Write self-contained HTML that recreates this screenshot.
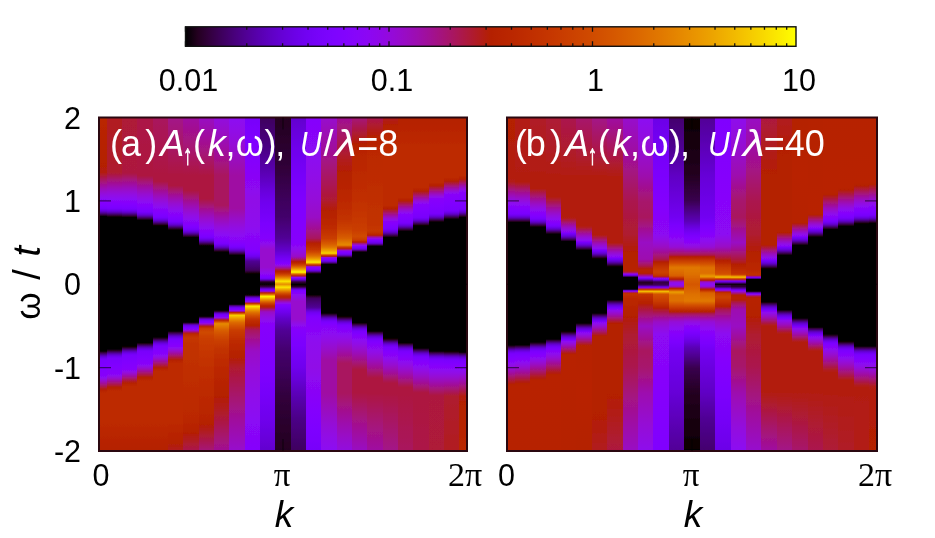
<!DOCTYPE html>
<html><head><meta charset="utf-8"><style>
html,body{margin:0;padding:0;background:#fff;}
body{width:935px;height:538px;overflow:hidden;position:relative;}
svg{position:absolute;left:0;top:0;filter:blur(0.6px);}
</style></head><body>
<svg width="935" height="538" viewBox="0 0 935 538">
<defs><filter id="blur" x="-5%" y="-5%" width="110%" height="110%"><feGaussianBlur stdDeviation="0.75"/></filter><linearGradient id="a0" gradientUnits="userSpaceOnUse" x1="0" y1="117.50" x2="0" y2="451.00"><stop offset="0.0000" stop-color="#ba2600"/><stop offset="0.1317" stop-color="#b42000"/><stop offset="0.1617" stop-color="#b31f0b"/><stop offset="0.1647" stop-color="#b31e0f"/><stop offset="0.1856" stop-color="#a9165f"/><stop offset="0.2006" stop-color="#a21192"/><stop offset="0.2126" stop-color="#9c0db5"/><stop offset="0.2216" stop-color="#970bcc"/><stop offset="0.2335" stop-color="#9109e5"/><stop offset="0.2425" stop-color="#8c07f2"/><stop offset="0.2545" stop-color="#8505fd"/><stop offset="0.2635" stop-color="#7f04ff"/><stop offset="0.2725" stop-color="#7803fb"/><stop offset="0.2754" stop-color="#7102f1"/><stop offset="0.2784" stop-color="#6a01e1"/><stop offset="0.2814" stop-color="#6201cc"/><stop offset="0.2844" stop-color="#5700ab"/><stop offset="0.2874" stop-color="#4b0084"/><stop offset="0.2934" stop-color="#2a002b"/><stop offset="0.2964" stop-color="#000000"/><stop offset="0.7006" stop-color="#000000"/><stop offset="0.7036" stop-color="#260024"/><stop offset="0.7066" stop-color="#3a0051"/><stop offset="0.7126" stop-color="#5500a5"/><stop offset="0.7156" stop-color="#6001c8"/><stop offset="0.7186" stop-color="#6901de"/><stop offset="0.7216" stop-color="#7002ef"/><stop offset="0.7246" stop-color="#7703f9"/><stop offset="0.7275" stop-color="#7b03fd"/><stop offset="0.7455" stop-color="#7f04ff"/><stop offset="0.7754" stop-color="#8706fb"/><stop offset="0.7814" stop-color="#8e08ee"/><stop offset="0.7874" stop-color="#950ad6"/><stop offset="0.7904" stop-color="#990cc6"/><stop offset="0.7964" stop-color="#a00fa1"/><stop offset="0.8054" stop-color="#a9165c"/><stop offset="0.8144" stop-color="#b31e0e"/><stop offset="0.8174" stop-color="#b62100"/><stop offset="0.8263" stop-color="#bd2a00"/><stop offset="0.9102" stop-color="#bd2a00"/><stop offset="1.0000" stop-color="#b42000"/></linearGradient><linearGradient id="a1" gradientUnits="userSpaceOnUse" x1="0" y1="117.50" x2="0" y2="451.00"><stop offset="0.0000" stop-color="#b11c20"/><stop offset="0.1647" stop-color="#af1b2f"/><stop offset="0.1856" stop-color="#a61473"/><stop offset="0.1976" stop-color="#a11096"/><stop offset="0.2096" stop-color="#9c0db6"/><stop offset="0.2216" stop-color="#960bd1"/><stop offset="0.2335" stop-color="#9108e6"/><stop offset="0.2455" stop-color="#8b07f5"/><stop offset="0.2575" stop-color="#8405fd"/><stop offset="0.2665" stop-color="#7e04ff"/><stop offset="0.2725" stop-color="#7a03fd"/><stop offset="0.2754" stop-color="#7402f5"/><stop offset="0.2784" stop-color="#6d02e8"/><stop offset="0.2814" stop-color="#6601d6"/><stop offset="0.2844" stop-color="#5c01ba"/><stop offset="0.2874" stop-color="#500095"/><stop offset="0.2934" stop-color="#33003e"/><stop offset="0.2964" stop-color="#1a0011"/><stop offset="0.2994" stop-color="#000000"/><stop offset="0.6946" stop-color="#000000"/><stop offset="0.6976" stop-color="#1d0015"/><stop offset="0.7006" stop-color="#340042"/><stop offset="0.7066" stop-color="#510099"/><stop offset="0.7096" stop-color="#5d01bd"/><stop offset="0.7126" stop-color="#6601d8"/><stop offset="0.7156" stop-color="#6e02ea"/><stop offset="0.7186" stop-color="#7402f6"/><stop offset="0.7216" stop-color="#7a03fd"/><stop offset="0.7425" stop-color="#8004ff"/><stop offset="0.7695" stop-color="#8806f9"/><stop offset="0.7754" stop-color="#8f08e9"/><stop offset="0.7814" stop-color="#970bd0"/><stop offset="0.7874" stop-color="#9d0eae"/><stop offset="0.7964" stop-color="#a7146e"/><stop offset="0.8084" stop-color="#b31f0a"/><stop offset="0.8114" stop-color="#b62200"/><stop offset="0.8204" stop-color="#bd2a00"/><stop offset="0.9102" stop-color="#bd2a00"/><stop offset="1.0000" stop-color="#b42000"/></linearGradient><linearGradient id="a2" gradientUnits="userSpaceOnUse" x1="0" y1="117.50" x2="0" y2="451.00"><stop offset="0.0000" stop-color="#ae1a38"/><stop offset="0.1647" stop-color="#ad193f"/><stop offset="0.1677" stop-color="#ac1844"/><stop offset="0.1826" stop-color="#a71472"/><stop offset="0.1976" stop-color="#a0109b"/><stop offset="0.2096" stop-color="#9b0db9"/><stop offset="0.2216" stop-color="#960bd2"/><stop offset="0.2335" stop-color="#9108e6"/><stop offset="0.2455" stop-color="#8b07f4"/><stop offset="0.2575" stop-color="#8505fd"/><stop offset="0.2665" stop-color="#7f04ff"/><stop offset="0.2725" stop-color="#7b03fe"/><stop offset="0.2754" stop-color="#7703f9"/><stop offset="0.2784" stop-color="#7002ef"/><stop offset="0.2814" stop-color="#6901de"/><stop offset="0.2844" stop-color="#6001c8"/><stop offset="0.2874" stop-color="#5500a5"/><stop offset="0.2934" stop-color="#3a0051"/><stop offset="0.2964" stop-color="#260024"/><stop offset="0.2994" stop-color="#000000"/><stop offset="0.6856" stop-color="#000000"/><stop offset="0.6886" stop-color="#1a0011"/><stop offset="0.6916" stop-color="#33003f"/><stop offset="0.6976" stop-color="#500095"/><stop offset="0.7006" stop-color="#5c01ba"/><stop offset="0.7036" stop-color="#6601d6"/><stop offset="0.7066" stop-color="#6d02e9"/><stop offset="0.7096" stop-color="#7402f6"/><stop offset="0.7126" stop-color="#7a03fd"/><stop offset="0.7335" stop-color="#8104ff"/><stop offset="0.7545" stop-color="#8706fb"/><stop offset="0.7575" stop-color="#8a06f6"/><stop offset="0.7635" stop-color="#9209e3"/><stop offset="0.7695" stop-color="#990cc6"/><stop offset="0.7754" stop-color="#9f0fa2"/><stop offset="0.7814" stop-color="#a61377"/><stop offset="0.7934" stop-color="#b21e14"/><stop offset="0.7964" stop-color="#b52100"/><stop offset="0.8054" stop-color="#bd2a00"/><stop offset="0.9102" stop-color="#bd2a00"/><stop offset="1.0000" stop-color="#b42000"/></linearGradient><linearGradient id="a3" gradientUnits="userSpaceOnUse" x1="0" y1="117.50" x2="0" y2="451.00"><stop offset="0.0000" stop-color="#ac1847"/><stop offset="0.1737" stop-color="#ad193f"/><stop offset="0.1766" stop-color="#ac1845"/><stop offset="0.1916" stop-color="#a61473"/><stop offset="0.2066" stop-color="#a0109c"/><stop offset="0.2186" stop-color="#9b0db9"/><stop offset="0.2305" stop-color="#960bd2"/><stop offset="0.2425" stop-color="#9108e6"/><stop offset="0.2545" stop-color="#8b07f4"/><stop offset="0.2665" stop-color="#8505fd"/><stop offset="0.2754" stop-color="#7f04ff"/><stop offset="0.2814" stop-color="#7b03fd"/><stop offset="0.2844" stop-color="#7603f9"/><stop offset="0.2874" stop-color="#6f02ed"/><stop offset="0.2904" stop-color="#6801dd"/><stop offset="0.2934" stop-color="#6001c5"/><stop offset="0.2964" stop-color="#5500a2"/><stop offset="0.3024" stop-color="#38004d"/><stop offset="0.3054" stop-color="#240020"/><stop offset="0.3084" stop-color="#000000"/><stop offset="0.6737" stop-color="#000000"/><stop offset="0.6766" stop-color="#100006"/><stop offset="0.6796" stop-color="#2e0034"/><stop offset="0.6856" stop-color="#4d008c"/><stop offset="0.6886" stop-color="#5900b2"/><stop offset="0.6916" stop-color="#6401d1"/><stop offset="0.6946" stop-color="#6b01e5"/><stop offset="0.6976" stop-color="#7202f3"/><stop offset="0.7006" stop-color="#7903fc"/><stop offset="0.7216" stop-color="#8104ff"/><stop offset="0.7395" stop-color="#8806f9"/><stop offset="0.7425" stop-color="#8c07f2"/><stop offset="0.7485" stop-color="#9309dd"/><stop offset="0.7545" stop-color="#9a0cbf"/><stop offset="0.7605" stop-color="#a11099"/><stop offset="0.7695" stop-color="#aa1755"/><stop offset="0.7784" stop-color="#b31f09"/><stop offset="0.7814" stop-color="#b62200"/><stop offset="0.7904" stop-color="#bd2a00"/><stop offset="0.9102" stop-color="#bd2a00"/><stop offset="1.0000" stop-color="#b42000"/></linearGradient><linearGradient id="a4" gradientUnits="userSpaceOnUse" x1="0" y1="117.50" x2="0" y2="451.00"><stop offset="0.0000" stop-color="#a9165e"/><stop offset="0.1737" stop-color="#ad1940"/><stop offset="0.1916" stop-color="#ad1941"/><stop offset="0.2066" stop-color="#a7146f"/><stop offset="0.2216" stop-color="#a11099"/><stop offset="0.2335" stop-color="#9c0db7"/><stop offset="0.2455" stop-color="#970bd0"/><stop offset="0.2575" stop-color="#9109e4"/><stop offset="0.2695" stop-color="#8b07f3"/><stop offset="0.2814" stop-color="#8505fc"/><stop offset="0.2934" stop-color="#7e04ff"/><stop offset="0.2994" stop-color="#7903fc"/><stop offset="0.3024" stop-color="#7202f3"/><stop offset="0.3054" stop-color="#6b01e5"/><stop offset="0.3084" stop-color="#6401d1"/><stop offset="0.3114" stop-color="#5900b2"/><stop offset="0.3144" stop-color="#4d008c"/><stop offset="0.3174" stop-color="#3f0060"/><stop offset="0.3204" stop-color="#2e0034"/><stop offset="0.3234" stop-color="#100006"/><stop offset="0.3263" stop-color="#000000"/><stop offset="0.6587" stop-color="#000000"/><stop offset="0.6617" stop-color="#20001a"/><stop offset="0.6647" stop-color="#360047"/><stop offset="0.6707" stop-color="#53009d"/><stop offset="0.6737" stop-color="#5e01c0"/><stop offset="0.6766" stop-color="#6701da"/><stop offset="0.6796" stop-color="#6e02eb"/><stop offset="0.6826" stop-color="#7502f7"/><stop offset="0.6856" stop-color="#7b03fd"/><stop offset="0.6976" stop-color="#8104ff"/><stop offset="0.7096" stop-color="#8706fb"/><stop offset="0.7156" stop-color="#8e08ed"/><stop offset="0.7216" stop-color="#950ad5"/><stop offset="0.7275" stop-color="#9c0db5"/><stop offset="0.7335" stop-color="#a3118d"/><stop offset="0.7395" stop-color="#a9165f"/><stop offset="0.7485" stop-color="#b21e13"/><stop offset="0.7515" stop-color="#b52100"/><stop offset="0.7605" stop-color="#bd2a00"/><stop offset="0.9102" stop-color="#bd2a00"/><stop offset="1.0000" stop-color="#b42000"/></linearGradient><linearGradient id="a5" gradientUnits="userSpaceOnUse" x1="0" y1="117.50" x2="0" y2="451.00"><stop offset="0.0000" stop-color="#a31289"/><stop offset="0.1737" stop-color="#ad1940"/><stop offset="0.2036" stop-color="#ad193f"/><stop offset="0.2335" stop-color="#a11098"/><stop offset="0.2455" stop-color="#9c0db5"/><stop offset="0.2575" stop-color="#970bcf"/><stop offset="0.2695" stop-color="#9109e3"/><stop offset="0.2814" stop-color="#8c07f2"/><stop offset="0.2964" stop-color="#8405fe"/><stop offset="0.3054" stop-color="#7e04ff"/><stop offset="0.3114" stop-color="#7a03fd"/><stop offset="0.3144" stop-color="#7302f5"/><stop offset="0.3174" stop-color="#6d02e7"/><stop offset="0.3204" stop-color="#6501d5"/><stop offset="0.3234" stop-color="#5b01b8"/><stop offset="0.3263" stop-color="#500093"/><stop offset="0.3323" stop-color="#31003c"/><stop offset="0.3353" stop-color="#18000e"/><stop offset="0.3383" stop-color="#000000"/><stop offset="0.6407" stop-color="#000000"/><stop offset="0.6437" stop-color="#270026"/><stop offset="0.6467" stop-color="#3a0052"/><stop offset="0.6527" stop-color="#5600a7"/><stop offset="0.6557" stop-color="#6101c9"/><stop offset="0.6587" stop-color="#6901df"/><stop offset="0.6617" stop-color="#7002ef"/><stop offset="0.6647" stop-color="#7703fa"/><stop offset="0.6677" stop-color="#7b03fe"/><stop offset="0.6766" stop-color="#8104ff"/><stop offset="0.6856" stop-color="#8706fb"/><stop offset="0.6886" stop-color="#8a06f6"/><stop offset="0.6916" stop-color="#8e08ee"/><stop offset="0.6976" stop-color="#950ad6"/><stop offset="0.7036" stop-color="#9c0db6"/><stop offset="0.7096" stop-color="#a2118e"/><stop offset="0.7156" stop-color="#a91560"/><stop offset="0.7246" stop-color="#b21d15"/><stop offset="0.7275" stop-color="#b52000"/><stop offset="0.7365" stop-color="#bd2a00"/><stop offset="0.9102" stop-color="#bd2a00"/><stop offset="0.9731" stop-color="#b52000"/><stop offset="0.9760" stop-color="#b42001"/><stop offset="1.0000" stop-color="#b11c20"/></linearGradient><linearGradient id="a6" gradientUnits="userSpaceOnUse" x1="0" y1="117.50" x2="0" y2="451.00"><stop offset="0.0000" stop-color="#9f0fa3"/><stop offset="0.0808" stop-color="#a61378"/><stop offset="0.1737" stop-color="#ad1940"/><stop offset="0.2186" stop-color="#ad193f"/><stop offset="0.2515" stop-color="#a11095"/><stop offset="0.2665" stop-color="#9c0db5"/><stop offset="0.2784" stop-color="#970bcc"/><stop offset="0.2934" stop-color="#9209e3"/><stop offset="0.3054" stop-color="#8d07f0"/><stop offset="0.3234" stop-color="#8305fe"/><stop offset="0.3293" stop-color="#7e04ff"/><stop offset="0.3353" stop-color="#7703fa"/><stop offset="0.3383" stop-color="#7002ef"/><stop offset="0.3413" stop-color="#6901df"/><stop offset="0.3443" stop-color="#6101c9"/><stop offset="0.3473" stop-color="#5600a7"/><stop offset="0.3503" stop-color="#49007f"/><stop offset="0.3533" stop-color="#3a0052"/><stop offset="0.3563" stop-color="#270026"/><stop offset="0.3593" stop-color="#000000"/><stop offset="0.6138" stop-color="#000000"/><stop offset="0.6168" stop-color="#32003c"/><stop offset="0.6198" stop-color="#510098"/><stop offset="0.6228" stop-color="#6701d9"/><stop offset="0.6257" stop-color="#6f02ee"/><stop offset="0.6287" stop-color="#7803fa"/><stop offset="0.6317" stop-color="#7f04ff"/><stop offset="0.6347" stop-color="#8605fb"/><stop offset="0.6377" stop-color="#9209e0"/><stop offset="0.6407" stop-color="#9e0eab"/><stop offset="0.6437" stop-color="#a91563"/><stop offset="0.6467" stop-color="#b31e0f"/><stop offset="0.6497" stop-color="#bc2900"/><stop offset="0.6587" stop-color="#c43500"/><stop offset="0.6617" stop-color="#c53700"/><stop offset="0.6796" stop-color="#c23200"/><stop offset="0.8982" stop-color="#bb2800"/><stop offset="0.9431" stop-color="#b52000"/><stop offset="1.0000" stop-color="#ab174f"/></linearGradient><linearGradient id="a7" gradientUnits="userSpaceOnUse" x1="0" y1="117.50" x2="0" y2="451.00"><stop offset="0.0000" stop-color="#990cc4"/><stop offset="0.0808" stop-color="#a3118e"/><stop offset="0.1737" stop-color="#ad1941"/><stop offset="0.2425" stop-color="#ad193f"/><stop offset="0.2455" stop-color="#ac1844"/><stop offset="0.2784" stop-color="#a11099"/><stop offset="0.2934" stop-color="#9b0db9"/><stop offset="0.3054" stop-color="#970bcf"/><stop offset="0.3204" stop-color="#9109e5"/><stop offset="0.3323" stop-color="#8c07f2"/><stop offset="0.3473" stop-color="#8405fd"/><stop offset="0.3563" stop-color="#7c03fe"/><stop offset="0.3593" stop-color="#7903fc"/><stop offset="0.3623" stop-color="#7302f3"/><stop offset="0.3653" stop-color="#6c01e5"/><stop offset="0.3683" stop-color="#6401d2"/><stop offset="0.3713" stop-color="#5a00b3"/><stop offset="0.3743" stop-color="#4e008d"/><stop offset="0.3772" stop-color="#400062"/><stop offset="0.3802" stop-color="#2f0036"/><stop offset="0.3832" stop-color="#120008"/><stop offset="0.3862" stop-color="#000000"/><stop offset="0.5958" stop-color="#000000"/><stop offset="0.5988" stop-color="#2b002c"/><stop offset="0.6018" stop-color="#4d008b"/><stop offset="0.6048" stop-color="#6501d3"/><stop offset="0.6078" stop-color="#7002ef"/><stop offset="0.6108" stop-color="#7a03fd"/><stop offset="0.6138" stop-color="#8305fe"/><stop offset="0.6168" stop-color="#8f08ea"/><stop offset="0.6198" stop-color="#9c0db7"/><stop offset="0.6228" stop-color="#a7146c"/><stop offset="0.6257" stop-color="#b21e12"/><stop offset="0.6287" stop-color="#bd2a00"/><stop offset="0.6317" stop-color="#c63900"/><stop offset="0.6347" stop-color="#ca3f00"/><stop offset="0.6437" stop-color="#cf4900"/><stop offset="0.6647" stop-color="#c93c00"/><stop offset="0.7485" stop-color="#c12f00"/><stop offset="0.8982" stop-color="#b82400"/><stop offset="0.9192" stop-color="#b42000"/><stop offset="1.0000" stop-color="#a5137b"/></linearGradient><linearGradient id="a8" gradientUnits="userSpaceOnUse" x1="0" y1="117.50" x2="0" y2="451.00"><stop offset="0.0000" stop-color="#9209df"/><stop offset="0.0389" stop-color="#980bca"/><stop offset="0.0808" stop-color="#9d0eae"/><stop offset="0.1257" stop-color="#a3118a"/><stop offset="0.1737" stop-color="#a9165f"/><stop offset="0.2605" stop-color="#a9165e"/><stop offset="0.2635" stop-color="#a91560"/><stop offset="0.2814" stop-color="#a31289"/><stop offset="0.2994" stop-color="#9d0ead"/><stop offset="0.3263" stop-color="#940ad9"/><stop offset="0.3413" stop-color="#8f08eb"/><stop offset="0.3533" stop-color="#8a07f5"/><stop offset="0.3683" stop-color="#8205fe"/><stop offset="0.3772" stop-color="#7b03fd"/><stop offset="0.3802" stop-color="#7402f6"/><stop offset="0.3832" stop-color="#6d02e9"/><stop offset="0.3862" stop-color="#6601d7"/><stop offset="0.3892" stop-color="#5d01bc"/><stop offset="0.3922" stop-color="#510098"/><stop offset="0.3982" stop-color="#340041"/><stop offset="0.4012" stop-color="#1d0014"/><stop offset="0.4042" stop-color="#000000"/><stop offset="0.5778" stop-color="#000000"/><stop offset="0.5808" stop-color="#21001c"/><stop offset="0.5838" stop-color="#480079"/><stop offset="0.5868" stop-color="#6001c5"/><stop offset="0.5898" stop-color="#7002ee"/><stop offset="0.5928" stop-color="#7903fb"/><stop offset="0.5958" stop-color="#8104ff"/><stop offset="0.5988" stop-color="#8906f8"/><stop offset="0.6018" stop-color="#980bcb"/><stop offset="0.6048" stop-color="#aa165a"/><stop offset="0.6078" stop-color="#ba2600"/><stop offset="0.6108" stop-color="#c93d00"/><stop offset="0.6138" stop-color="#d75b00"/><stop offset="0.6168" stop-color="#e48200"/><stop offset="0.6198" stop-color="#e58700"/><stop offset="0.6377" stop-color="#d85f00"/><stop offset="0.6497" stop-color="#d25100"/><stop offset="0.6647" stop-color="#cb4200"/><stop offset="0.6946" stop-color="#c23200"/><stop offset="0.7485" stop-color="#bc2800"/><stop offset="0.8323" stop-color="#b42000"/><stop offset="0.8743" stop-color="#b11c1f"/><stop offset="0.9431" stop-color="#a81563"/><stop offset="1.0000" stop-color="#a11096"/></linearGradient><linearGradient id="a9" gradientUnits="userSpaceOnUse" x1="0" y1="117.50" x2="0" y2="451.00"><stop offset="0.0000" stop-color="#8c07f3"/><stop offset="0.0419" stop-color="#9108e6"/><stop offset="0.0838" stop-color="#950ad5"/><stop offset="0.1737" stop-color="#9f0fa3"/><stop offset="0.2725" stop-color="#9f0fa3"/><stop offset="0.3024" stop-color="#980cc7"/><stop offset="0.3323" stop-color="#9109e4"/><stop offset="0.3533" stop-color="#8c07f2"/><stop offset="0.3713" stop-color="#8706fa"/><stop offset="0.3802" stop-color="#8104ff"/><stop offset="0.3862" stop-color="#7b03fe"/><stop offset="0.3892" stop-color="#7703f9"/><stop offset="0.3922" stop-color="#7002ee"/><stop offset="0.3952" stop-color="#6901de"/><stop offset="0.3982" stop-color="#6001c7"/><stop offset="0.4012" stop-color="#5500a5"/><stop offset="0.4072" stop-color="#3a0050"/><stop offset="0.4102" stop-color="#260024"/><stop offset="0.4132" stop-color="#000000"/><stop offset="0.5599" stop-color="#000000"/><stop offset="0.5629" stop-color="#3d005a"/><stop offset="0.5659" stop-color="#5700ab"/><stop offset="0.5689" stop-color="#6b01e5"/><stop offset="0.5719" stop-color="#7703fa"/><stop offset="0.5749" stop-color="#7f04ff"/><stop offset="0.5778" stop-color="#8706fb"/><stop offset="0.5808" stop-color="#950ad5"/><stop offset="0.5838" stop-color="#b41f06"/><stop offset="0.5868" stop-color="#ce4600"/><stop offset="0.5898" stop-color="#e48400"/><stop offset="0.5928" stop-color="#f7d200"/><stop offset="0.6018" stop-color="#eca000"/><stop offset="0.6108" stop-color="#e17700"/><stop offset="0.6138" stop-color="#dd6d00"/><stop offset="0.6228" stop-color="#d65800"/><stop offset="0.6377" stop-color="#c93d00"/><stop offset="0.6707" stop-color="#bd2a00"/><stop offset="0.7186" stop-color="#b42001"/><stop offset="0.7515" stop-color="#af1a31"/><stop offset="0.7934" stop-color="#ab1750"/><stop offset="0.9042" stop-color="#a0109b"/><stop offset="1.0000" stop-color="#970bce"/></linearGradient><linearGradient id="a10" gradientUnits="userSpaceOnUse" x1="0" y1="117.50" x2="0" y2="451.00"><stop offset="0.0000" stop-color="#7803fa"/><stop offset="0.0629" stop-color="#7e04ff"/><stop offset="0.1228" stop-color="#8405fd"/><stop offset="0.1826" stop-color="#8a06f6"/><stop offset="0.2515" stop-color="#9008e7"/><stop offset="0.3263" stop-color="#8e08ee"/><stop offset="0.3623" stop-color="#8806f9"/><stop offset="0.3982" stop-color="#8205fe"/><stop offset="0.4042" stop-color="#7e04ff"/><stop offset="0.4102" stop-color="#7703fa"/><stop offset="0.4162" stop-color="#7002ee"/><stop offset="0.4222" stop-color="#6401d0"/><stop offset="0.4281" stop-color="#5500a5"/><stop offset="0.4311" stop-color="#500094"/><stop offset="0.4551" stop-color="#400063"/><stop offset="0.4581" stop-color="#3d0059"/><stop offset="0.4641" stop-color="#250021"/><stop offset="0.4671" stop-color="#0d0004"/><stop offset="0.4701" stop-color="#000000"/><stop offset="0.5299" stop-color="#000000"/><stop offset="0.5329" stop-color="#18000e"/><stop offset="0.5359" stop-color="#43006a"/><stop offset="0.5389" stop-color="#5b01b8"/><stop offset="0.5419" stop-color="#6f02ec"/><stop offset="0.5449" stop-color="#7903fc"/><stop offset="0.5479" stop-color="#8104ff"/><stop offset="0.5509" stop-color="#8806f9"/><stop offset="0.5539" stop-color="#9c0eb3"/><stop offset="0.5569" stop-color="#bb2800"/><stop offset="0.5599" stop-color="#d65800"/><stop offset="0.5629" stop-color="#eda500"/><stop offset="0.5659" stop-color="#fbe900"/><stop offset="0.5719" stop-color="#f2bb00"/><stop offset="0.5778" stop-color="#e99400"/><stop offset="0.5838" stop-color="#df7400"/><stop offset="0.5898" stop-color="#d85d00"/><stop offset="0.5958" stop-color="#cf4a00"/><stop offset="0.6048" stop-color="#c33200"/><stop offset="0.6228" stop-color="#b52100"/><stop offset="0.6257" stop-color="#b31e0f"/><stop offset="0.6377" stop-color="#a9165e"/><stop offset="0.6707" stop-color="#a11099"/><stop offset="0.7006" stop-color="#990cc5"/><stop offset="0.7515" stop-color="#950ad8"/><stop offset="0.8263" stop-color="#9008e8"/><stop offset="0.9132" stop-color="#8a07f5"/><stop offset="1.0000" stop-color="#8505fd"/></linearGradient><linearGradient id="a11" gradientUnits="userSpaceOnUse" x1="0" y1="117.50" x2="0" y2="451.00"><stop offset="0.0000" stop-color="#3e005e"/><stop offset="0.0988" stop-color="#4c0088"/><stop offset="0.1737" stop-color="#5c01b9"/><stop offset="0.2186" stop-color="#6801db"/><stop offset="0.2545" stop-color="#7002ef"/><stop offset="0.3174" stop-color="#7b03fe"/><stop offset="0.3623" stop-color="#8405fd"/><stop offset="0.3772" stop-color="#8d07ef"/><stop offset="0.3952" stop-color="#970bce"/><stop offset="0.4491" stop-color="#970bce"/><stop offset="0.4611" stop-color="#9109e5"/><stop offset="0.4701" stop-color="#8c07f3"/><stop offset="0.4760" stop-color="#8205fe"/><stop offset="0.4790" stop-color="#7d04ff"/><stop offset="0.4820" stop-color="#7803fb"/><stop offset="0.4850" stop-color="#6901df"/><stop offset="0.4880" stop-color="#5400a2"/><stop offset="0.4910" stop-color="#39004e"/><stop offset="0.4940" stop-color="#20001a"/><stop offset="0.4970" stop-color="#17000d"/><stop offset="0.5000" stop-color="#000000"/><stop offset="0.5030" stop-color="#20001a"/><stop offset="0.5060" stop-color="#2e0033"/><stop offset="0.5090" stop-color="#43006a"/><stop offset="0.5120" stop-color="#5a01b5"/><stop offset="0.5150" stop-color="#6d02e9"/><stop offset="0.5180" stop-color="#7d04ff"/><stop offset="0.5210" stop-color="#9109e5"/><stop offset="0.5240" stop-color="#ac1847"/><stop offset="0.5269" stop-color="#c33400"/><stop offset="0.5299" stop-color="#d85f00"/><stop offset="0.5329" stop-color="#ec9e00"/><stop offset="0.5359" stop-color="#fdf400"/><stop offset="0.5389" stop-color="#f9e000"/><stop offset="0.5449" stop-color="#eda300"/><stop offset="0.5509" stop-color="#de6f00"/><stop offset="0.5569" stop-color="#ce4600"/><stop offset="0.5629" stop-color="#bd2a00"/><stop offset="0.5659" stop-color="#b82300"/><stop offset="0.5689" stop-color="#b21e11"/><stop offset="0.5749" stop-color="#a81569"/><stop offset="0.5778" stop-color="#a21190"/><stop offset="0.5808" stop-color="#9c0eb3"/><stop offset="0.5838" stop-color="#980cc7"/><stop offset="0.5958" stop-color="#9309de"/><stop offset="0.6048" stop-color="#8f08eb"/><stop offset="0.6228" stop-color="#8605fc"/><stop offset="0.7545" stop-color="#7f04ff"/><stop offset="0.8263" stop-color="#7703fa"/><stop offset="0.9132" stop-color="#6e02ea"/><stop offset="1.0000" stop-color="#6301ce"/></linearGradient><linearGradient id="a12" gradientUnits="userSpaceOnUse" x1="0" y1="117.50" x2="0" y2="451.00"><stop offset="0.0000" stop-color="#240020"/><stop offset="0.1497" stop-color="#300038"/><stop offset="0.2485" stop-color="#3e005d"/><stop offset="0.2994" stop-color="#43006c"/><stop offset="0.3623" stop-color="#510096"/><stop offset="0.3982" stop-color="#6201cc"/><stop offset="0.4162" stop-color="#6f02ec"/><stop offset="0.4281" stop-color="#7803fb"/><stop offset="0.4341" stop-color="#7f04ff"/><stop offset="0.4371" stop-color="#8204ff"/><stop offset="0.4401" stop-color="#8906f8"/><stop offset="0.4431" stop-color="#9008e7"/><stop offset="0.4461" stop-color="#970bce"/><stop offset="0.4491" stop-color="#9e0eac"/><stop offset="0.4521" stop-color="#a41284"/><stop offset="0.4581" stop-color="#b01c26"/><stop offset="0.4611" stop-color="#b62200"/><stop offset="0.4671" stop-color="#c13100"/><stop offset="0.4731" stop-color="#d24f00"/><stop offset="0.4760" stop-color="#da6300"/><stop offset="0.4820" stop-color="#e89200"/><stop offset="0.4880" stop-color="#f5c700"/><stop offset="0.4910" stop-color="#fbe600"/><stop offset="0.5000" stop-color="#e78d00"/><stop offset="0.5090" stop-color="#fbe600"/><stop offset="0.5120" stop-color="#f5c700"/><stop offset="0.5180" stop-color="#e89200"/><stop offset="0.5240" stop-color="#da6300"/><stop offset="0.5269" stop-color="#d24f00"/><stop offset="0.5329" stop-color="#c13100"/><stop offset="0.5389" stop-color="#b62200"/><stop offset="0.5419" stop-color="#b01c26"/><stop offset="0.5479" stop-color="#a41284"/><stop offset="0.5509" stop-color="#9e0eac"/><stop offset="0.5539" stop-color="#970bce"/><stop offset="0.5569" stop-color="#9008e7"/><stop offset="0.5599" stop-color="#8906f8"/><stop offset="0.5629" stop-color="#8204ff"/><stop offset="0.5659" stop-color="#7f04ff"/><stop offset="0.5719" stop-color="#7803fb"/><stop offset="0.5838" stop-color="#6f02ec"/><stop offset="0.6018" stop-color="#6201cc"/><stop offset="0.6377" stop-color="#510096"/><stop offset="0.7006" stop-color="#43006c"/><stop offset="0.7515" stop-color="#3e005d"/><stop offset="0.8503" stop-color="#300038"/><stop offset="1.0000" stop-color="#240020"/></linearGradient><linearGradient id="a13" gradientUnits="userSpaceOnUse" x1="0" y1="117.50" x2="0" y2="451.00"><stop offset="0.0000" stop-color="#6301ce"/><stop offset="0.0868" stop-color="#6e02ea"/><stop offset="0.1737" stop-color="#7703fa"/><stop offset="0.2455" stop-color="#7f04ff"/><stop offset="0.3772" stop-color="#8605fc"/><stop offset="0.3952" stop-color="#8f08eb"/><stop offset="0.4042" stop-color="#9309de"/><stop offset="0.4162" stop-color="#980cc7"/><stop offset="0.4192" stop-color="#9c0eb3"/><stop offset="0.4222" stop-color="#a21190"/><stop offset="0.4251" stop-color="#a81569"/><stop offset="0.4311" stop-color="#b21e11"/><stop offset="0.4341" stop-color="#b82300"/><stop offset="0.4371" stop-color="#bd2a00"/><stop offset="0.4431" stop-color="#ce4600"/><stop offset="0.4491" stop-color="#de6f00"/><stop offset="0.4551" stop-color="#eda300"/><stop offset="0.4611" stop-color="#f9e000"/><stop offset="0.4641" stop-color="#fdf400"/><stop offset="0.4671" stop-color="#ec9e00"/><stop offset="0.4701" stop-color="#d85f00"/><stop offset="0.4731" stop-color="#c33400"/><stop offset="0.4760" stop-color="#ac1847"/><stop offset="0.4790" stop-color="#9109e5"/><stop offset="0.4820" stop-color="#7d04ff"/><stop offset="0.4850" stop-color="#6d02e9"/><stop offset="0.4880" stop-color="#5a01b5"/><stop offset="0.4910" stop-color="#43006a"/><stop offset="0.4940" stop-color="#2e0033"/><stop offset="0.4970" stop-color="#20001a"/><stop offset="0.5000" stop-color="#000000"/><stop offset="0.5030" stop-color="#17000d"/><stop offset="0.5060" stop-color="#20001a"/><stop offset="0.5090" stop-color="#39004e"/><stop offset="0.5120" stop-color="#5400a2"/><stop offset="0.5150" stop-color="#6901df"/><stop offset="0.5180" stop-color="#7803fb"/><stop offset="0.5210" stop-color="#7d04ff"/><stop offset="0.5240" stop-color="#8205fe"/><stop offset="0.5299" stop-color="#8c07f3"/><stop offset="0.5389" stop-color="#9109e5"/><stop offset="0.5509" stop-color="#970bce"/><stop offset="0.6048" stop-color="#970bce"/><stop offset="0.6228" stop-color="#8d07ef"/><stop offset="0.6377" stop-color="#8405fd"/><stop offset="0.6826" stop-color="#7b03fe"/><stop offset="0.7455" stop-color="#7002ef"/><stop offset="0.7814" stop-color="#6801db"/><stop offset="0.8263" stop-color="#5c01b9"/><stop offset="0.9012" stop-color="#4c0088"/><stop offset="1.0000" stop-color="#3e005e"/></linearGradient><linearGradient id="a14" gradientUnits="userSpaceOnUse" x1="0" y1="117.50" x2="0" y2="451.00"><stop offset="0.0000" stop-color="#8505fd"/><stop offset="0.0868" stop-color="#8a07f5"/><stop offset="0.1737" stop-color="#9008e8"/><stop offset="0.2485" stop-color="#950ad8"/><stop offset="0.2994" stop-color="#990cc5"/><stop offset="0.3293" stop-color="#a11099"/><stop offset="0.3623" stop-color="#a9165e"/><stop offset="0.3743" stop-color="#b31e0f"/><stop offset="0.3772" stop-color="#b52100"/><stop offset="0.3952" stop-color="#c33200"/><stop offset="0.4042" stop-color="#cf4a00"/><stop offset="0.4102" stop-color="#d85d00"/><stop offset="0.4162" stop-color="#df7400"/><stop offset="0.4222" stop-color="#e99400"/><stop offset="0.4281" stop-color="#f2bb00"/><stop offset="0.4341" stop-color="#fbe900"/><stop offset="0.4371" stop-color="#eda500"/><stop offset="0.4401" stop-color="#d65800"/><stop offset="0.4431" stop-color="#bb2800"/><stop offset="0.4461" stop-color="#9c0eb3"/><stop offset="0.4491" stop-color="#8806f9"/><stop offset="0.4521" stop-color="#8104ff"/><stop offset="0.4551" stop-color="#7903fc"/><stop offset="0.4581" stop-color="#6f02ec"/><stop offset="0.4611" stop-color="#5b01b8"/><stop offset="0.4641" stop-color="#43006a"/><stop offset="0.4671" stop-color="#18000e"/><stop offset="0.4701" stop-color="#000000"/><stop offset="0.5299" stop-color="#000000"/><stop offset="0.5329" stop-color="#0d0004"/><stop offset="0.5359" stop-color="#250021"/><stop offset="0.5419" stop-color="#3d0059"/><stop offset="0.5449" stop-color="#400063"/><stop offset="0.5689" stop-color="#500094"/><stop offset="0.5719" stop-color="#5500a5"/><stop offset="0.5778" stop-color="#6401d0"/><stop offset="0.5838" stop-color="#7002ee"/><stop offset="0.5898" stop-color="#7703fa"/><stop offset="0.5958" stop-color="#7e04ff"/><stop offset="0.6018" stop-color="#8205fe"/><stop offset="0.6377" stop-color="#8806f9"/><stop offset="0.6737" stop-color="#8e08ee"/><stop offset="0.7485" stop-color="#9008e7"/><stop offset="0.8174" stop-color="#8a06f6"/><stop offset="0.8772" stop-color="#8405fd"/><stop offset="0.9371" stop-color="#7e04ff"/><stop offset="1.0000" stop-color="#7803fa"/></linearGradient><linearGradient id="a15" gradientUnits="userSpaceOnUse" x1="0" y1="117.50" x2="0" y2="451.00"><stop offset="0.0000" stop-color="#970bce"/><stop offset="0.0958" stop-color="#a0109b"/><stop offset="0.2066" stop-color="#ab1750"/><stop offset="0.2485" stop-color="#af1a31"/><stop offset="0.2814" stop-color="#b42001"/><stop offset="0.3293" stop-color="#bd2a00"/><stop offset="0.3623" stop-color="#c93d00"/><stop offset="0.3772" stop-color="#d65800"/><stop offset="0.3862" stop-color="#dd6d00"/><stop offset="0.3892" stop-color="#e17700"/><stop offset="0.3982" stop-color="#eca000"/><stop offset="0.4072" stop-color="#f7d200"/><stop offset="0.4102" stop-color="#e48400"/><stop offset="0.4132" stop-color="#ce4600"/><stop offset="0.4162" stop-color="#b41f06"/><stop offset="0.4192" stop-color="#950ad5"/><stop offset="0.4222" stop-color="#8706fb"/><stop offset="0.4251" stop-color="#7f04ff"/><stop offset="0.4281" stop-color="#7703fa"/><stop offset="0.4311" stop-color="#6b01e5"/><stop offset="0.4341" stop-color="#5700ab"/><stop offset="0.4371" stop-color="#3d005a"/><stop offset="0.4401" stop-color="#000000"/><stop offset="0.5868" stop-color="#000000"/><stop offset="0.5898" stop-color="#260024"/><stop offset="0.5928" stop-color="#3a0050"/><stop offset="0.5988" stop-color="#5500a5"/><stop offset="0.6018" stop-color="#6001c7"/><stop offset="0.6048" stop-color="#6901de"/><stop offset="0.6078" stop-color="#7002ee"/><stop offset="0.6108" stop-color="#7703f9"/><stop offset="0.6138" stop-color="#7b03fe"/><stop offset="0.6198" stop-color="#8104ff"/><stop offset="0.6287" stop-color="#8706fa"/><stop offset="0.6467" stop-color="#8c07f2"/><stop offset="0.6677" stop-color="#9109e4"/><stop offset="0.6976" stop-color="#980cc7"/><stop offset="0.7275" stop-color="#9f0fa3"/><stop offset="0.8263" stop-color="#9f0fa3"/><stop offset="0.9162" stop-color="#950ad5"/><stop offset="0.9581" stop-color="#9108e6"/><stop offset="1.0000" stop-color="#8c07f3"/></linearGradient><linearGradient id="a16" gradientUnits="userSpaceOnUse" x1="0" y1="117.50" x2="0" y2="451.00"><stop offset="0.0000" stop-color="#a11096"/><stop offset="0.0569" stop-color="#a81563"/><stop offset="0.1257" stop-color="#b11c1f"/><stop offset="0.1677" stop-color="#b42000"/><stop offset="0.2515" stop-color="#bc2800"/><stop offset="0.3054" stop-color="#c23200"/><stop offset="0.3353" stop-color="#cb4200"/><stop offset="0.3503" stop-color="#d25100"/><stop offset="0.3623" stop-color="#d85f00"/><stop offset="0.3802" stop-color="#e58700"/><stop offset="0.3832" stop-color="#e48200"/><stop offset="0.3862" stop-color="#d75b00"/><stop offset="0.3892" stop-color="#c93d00"/><stop offset="0.3922" stop-color="#ba2600"/><stop offset="0.3952" stop-color="#aa165a"/><stop offset="0.3982" stop-color="#980bcb"/><stop offset="0.4012" stop-color="#8906f8"/><stop offset="0.4042" stop-color="#8104ff"/><stop offset="0.4072" stop-color="#7903fb"/><stop offset="0.4102" stop-color="#7002ee"/><stop offset="0.4132" stop-color="#6001c5"/><stop offset="0.4162" stop-color="#480079"/><stop offset="0.4192" stop-color="#21001c"/><stop offset="0.4222" stop-color="#000000"/><stop offset="0.5958" stop-color="#000000"/><stop offset="0.5988" stop-color="#1d0014"/><stop offset="0.6018" stop-color="#340041"/><stop offset="0.6078" stop-color="#510098"/><stop offset="0.6108" stop-color="#5d01bc"/><stop offset="0.6138" stop-color="#6601d7"/><stop offset="0.6168" stop-color="#6d02e9"/><stop offset="0.6198" stop-color="#7402f6"/><stop offset="0.6228" stop-color="#7b03fd"/><stop offset="0.6317" stop-color="#8205fe"/><stop offset="0.6467" stop-color="#8a07f5"/><stop offset="0.6587" stop-color="#8f08eb"/><stop offset="0.6737" stop-color="#940ad9"/><stop offset="0.7006" stop-color="#9d0ead"/><stop offset="0.7186" stop-color="#a31289"/><stop offset="0.7365" stop-color="#a91560"/><stop offset="0.7395" stop-color="#a9165e"/><stop offset="0.8263" stop-color="#a9165f"/><stop offset="0.8743" stop-color="#a3118a"/><stop offset="0.9192" stop-color="#9d0eae"/><stop offset="0.9611" stop-color="#980bca"/><stop offset="1.0000" stop-color="#9209df"/></linearGradient><linearGradient id="a17" gradientUnits="userSpaceOnUse" x1="0" y1="117.50" x2="0" y2="451.00"><stop offset="0.0000" stop-color="#a5137b"/><stop offset="0.0808" stop-color="#b42000"/><stop offset="0.1018" stop-color="#b82400"/><stop offset="0.2515" stop-color="#c12f00"/><stop offset="0.3353" stop-color="#c93c00"/><stop offset="0.3563" stop-color="#cf4900"/><stop offset="0.3653" stop-color="#ca3f00"/><stop offset="0.3683" stop-color="#c63900"/><stop offset="0.3713" stop-color="#bd2a00"/><stop offset="0.3743" stop-color="#b21e12"/><stop offset="0.3772" stop-color="#a7146c"/><stop offset="0.3802" stop-color="#9c0db7"/><stop offset="0.3832" stop-color="#8f08ea"/><stop offset="0.3862" stop-color="#8305fe"/><stop offset="0.3892" stop-color="#7a03fd"/><stop offset="0.3922" stop-color="#7002ef"/><stop offset="0.3952" stop-color="#6501d3"/><stop offset="0.3982" stop-color="#4d008b"/><stop offset="0.4012" stop-color="#2b002c"/><stop offset="0.4042" stop-color="#000000"/><stop offset="0.6138" stop-color="#000000"/><stop offset="0.6168" stop-color="#120008"/><stop offset="0.6198" stop-color="#2f0036"/><stop offset="0.6228" stop-color="#400062"/><stop offset="0.6257" stop-color="#4e008d"/><stop offset="0.6287" stop-color="#5a00b3"/><stop offset="0.6317" stop-color="#6401d2"/><stop offset="0.6347" stop-color="#6c01e5"/><stop offset="0.6377" stop-color="#7302f3"/><stop offset="0.6407" stop-color="#7903fc"/><stop offset="0.6437" stop-color="#7c03fe"/><stop offset="0.6527" stop-color="#8405fd"/><stop offset="0.6677" stop-color="#8c07f2"/><stop offset="0.6796" stop-color="#9109e5"/><stop offset="0.6946" stop-color="#970bcf"/><stop offset="0.7066" stop-color="#9b0db9"/><stop offset="0.7216" stop-color="#a11099"/><stop offset="0.7545" stop-color="#ac1844"/><stop offset="0.7575" stop-color="#ad193f"/><stop offset="0.8263" stop-color="#ad1941"/><stop offset="0.9192" stop-color="#a3118e"/><stop offset="1.0000" stop-color="#990cc4"/></linearGradient><linearGradient id="a18" gradientUnits="userSpaceOnUse" x1="0" y1="117.50" x2="0" y2="451.00"><stop offset="0.0000" stop-color="#ab174f"/><stop offset="0.0569" stop-color="#b52000"/><stop offset="0.1018" stop-color="#bb2800"/><stop offset="0.3204" stop-color="#c23200"/><stop offset="0.3383" stop-color="#c53700"/><stop offset="0.3413" stop-color="#c43500"/><stop offset="0.3503" stop-color="#bc2900"/><stop offset="0.3533" stop-color="#b31e0f"/><stop offset="0.3563" stop-color="#a91563"/><stop offset="0.3593" stop-color="#9e0eab"/><stop offset="0.3623" stop-color="#9209e0"/><stop offset="0.3653" stop-color="#8605fb"/><stop offset="0.3683" stop-color="#7f04ff"/><stop offset="0.3713" stop-color="#7803fa"/><stop offset="0.3743" stop-color="#6f02ee"/><stop offset="0.3772" stop-color="#6701d9"/><stop offset="0.3802" stop-color="#510098"/><stop offset="0.3832" stop-color="#32003c"/><stop offset="0.3862" stop-color="#000000"/><stop offset="0.6407" stop-color="#000000"/><stop offset="0.6437" stop-color="#270026"/><stop offset="0.6467" stop-color="#3a0052"/><stop offset="0.6497" stop-color="#49007f"/><stop offset="0.6527" stop-color="#5600a7"/><stop offset="0.6557" stop-color="#6101c9"/><stop offset="0.6587" stop-color="#6901df"/><stop offset="0.6617" stop-color="#7002ef"/><stop offset="0.6647" stop-color="#7703fa"/><stop offset="0.6707" stop-color="#7e04ff"/><stop offset="0.6766" stop-color="#8305fe"/><stop offset="0.6946" stop-color="#8d07f0"/><stop offset="0.7066" stop-color="#9209e3"/><stop offset="0.7216" stop-color="#970bcc"/><stop offset="0.7335" stop-color="#9c0db5"/><stop offset="0.7485" stop-color="#a11095"/><stop offset="0.7814" stop-color="#ad193f"/><stop offset="0.8263" stop-color="#ad1940"/><stop offset="0.9192" stop-color="#a61378"/><stop offset="1.0000" stop-color="#9f0fa3"/></linearGradient><linearGradient id="a19" gradientUnits="userSpaceOnUse" x1="0" y1="117.50" x2="0" y2="451.00"><stop offset="0.0000" stop-color="#b11c20"/><stop offset="0.0240" stop-color="#b42001"/><stop offset="0.0269" stop-color="#b52000"/><stop offset="0.0898" stop-color="#bd2a00"/><stop offset="0.2635" stop-color="#bd2a00"/><stop offset="0.2725" stop-color="#b52000"/><stop offset="0.2754" stop-color="#b21d15"/><stop offset="0.2844" stop-color="#a91560"/><stop offset="0.2904" stop-color="#a2118e"/><stop offset="0.2964" stop-color="#9c0db6"/><stop offset="0.3024" stop-color="#950ad6"/><stop offset="0.3084" stop-color="#8e08ee"/><stop offset="0.3114" stop-color="#8a06f6"/><stop offset="0.3144" stop-color="#8706fb"/><stop offset="0.3234" stop-color="#8104ff"/><stop offset="0.3323" stop-color="#7b03fe"/><stop offset="0.3353" stop-color="#7703fa"/><stop offset="0.3383" stop-color="#7002ef"/><stop offset="0.3413" stop-color="#6901df"/><stop offset="0.3443" stop-color="#6101c9"/><stop offset="0.3473" stop-color="#5600a7"/><stop offset="0.3533" stop-color="#3a0052"/><stop offset="0.3563" stop-color="#270026"/><stop offset="0.3593" stop-color="#000000"/><stop offset="0.6617" stop-color="#000000"/><stop offset="0.6647" stop-color="#18000e"/><stop offset="0.6677" stop-color="#31003c"/><stop offset="0.6737" stop-color="#500093"/><stop offset="0.6766" stop-color="#5b01b8"/><stop offset="0.6796" stop-color="#6501d5"/><stop offset="0.6826" stop-color="#6d02e7"/><stop offset="0.6856" stop-color="#7302f5"/><stop offset="0.6886" stop-color="#7a03fd"/><stop offset="0.6946" stop-color="#7e04ff"/><stop offset="0.7036" stop-color="#8405fe"/><stop offset="0.7186" stop-color="#8c07f2"/><stop offset="0.7305" stop-color="#9109e3"/><stop offset="0.7425" stop-color="#970bcf"/><stop offset="0.7545" stop-color="#9c0db5"/><stop offset="0.7665" stop-color="#a11098"/><stop offset="0.7964" stop-color="#ad193f"/><stop offset="0.8263" stop-color="#ad1940"/><stop offset="1.0000" stop-color="#a31289"/></linearGradient><linearGradient id="a20" gradientUnits="userSpaceOnUse" x1="0" y1="117.50" x2="0" y2="451.00"><stop offset="0.0000" stop-color="#b42000"/><stop offset="0.0898" stop-color="#bd2a00"/><stop offset="0.2395" stop-color="#bd2a00"/><stop offset="0.2485" stop-color="#b52100"/><stop offset="0.2515" stop-color="#b21e13"/><stop offset="0.2605" stop-color="#a9165f"/><stop offset="0.2665" stop-color="#a3118d"/><stop offset="0.2725" stop-color="#9c0db5"/><stop offset="0.2784" stop-color="#950ad5"/><stop offset="0.2844" stop-color="#8e08ed"/><stop offset="0.2904" stop-color="#8706fb"/><stop offset="0.3024" stop-color="#8104ff"/><stop offset="0.3144" stop-color="#7b03fd"/><stop offset="0.3174" stop-color="#7502f7"/><stop offset="0.3204" stop-color="#6e02eb"/><stop offset="0.3234" stop-color="#6701da"/><stop offset="0.3263" stop-color="#5e01c0"/><stop offset="0.3293" stop-color="#53009d"/><stop offset="0.3353" stop-color="#360047"/><stop offset="0.3383" stop-color="#20001a"/><stop offset="0.3413" stop-color="#000000"/><stop offset="0.6737" stop-color="#000000"/><stop offset="0.6766" stop-color="#100006"/><stop offset="0.6796" stop-color="#2e0034"/><stop offset="0.6826" stop-color="#3f0060"/><stop offset="0.6856" stop-color="#4d008c"/><stop offset="0.6886" stop-color="#5900b2"/><stop offset="0.6916" stop-color="#6401d1"/><stop offset="0.6946" stop-color="#6b01e5"/><stop offset="0.6976" stop-color="#7202f3"/><stop offset="0.7006" stop-color="#7903fc"/><stop offset="0.7066" stop-color="#7e04ff"/><stop offset="0.7186" stop-color="#8505fc"/><stop offset="0.7305" stop-color="#8b07f3"/><stop offset="0.7425" stop-color="#9109e4"/><stop offset="0.7545" stop-color="#970bd0"/><stop offset="0.7665" stop-color="#9c0db7"/><stop offset="0.7784" stop-color="#a11099"/><stop offset="0.7934" stop-color="#a7146f"/><stop offset="0.8084" stop-color="#ad1941"/><stop offset="0.8263" stop-color="#ad1940"/><stop offset="1.0000" stop-color="#a9165e"/></linearGradient><linearGradient id="a21" gradientUnits="userSpaceOnUse" x1="0" y1="117.50" x2="0" y2="451.00"><stop offset="0.0000" stop-color="#b42000"/><stop offset="0.0898" stop-color="#bd2a00"/><stop offset="0.2096" stop-color="#bd2a00"/><stop offset="0.2186" stop-color="#b62200"/><stop offset="0.2216" stop-color="#b31f09"/><stop offset="0.2305" stop-color="#aa1755"/><stop offset="0.2395" stop-color="#a11099"/><stop offset="0.2455" stop-color="#9a0cbf"/><stop offset="0.2515" stop-color="#9309dd"/><stop offset="0.2575" stop-color="#8c07f2"/><stop offset="0.2605" stop-color="#8806f9"/><stop offset="0.2784" stop-color="#8104ff"/><stop offset="0.2994" stop-color="#7903fc"/><stop offset="0.3024" stop-color="#7202f3"/><stop offset="0.3054" stop-color="#6b01e5"/><stop offset="0.3084" stop-color="#6401d1"/><stop offset="0.3114" stop-color="#5900b2"/><stop offset="0.3144" stop-color="#4d008c"/><stop offset="0.3204" stop-color="#2e0034"/><stop offset="0.3234" stop-color="#100006"/><stop offset="0.3263" stop-color="#000000"/><stop offset="0.6916" stop-color="#000000"/><stop offset="0.6946" stop-color="#240020"/><stop offset="0.6976" stop-color="#38004d"/><stop offset="0.7036" stop-color="#5500a2"/><stop offset="0.7066" stop-color="#6001c5"/><stop offset="0.7096" stop-color="#6801dd"/><stop offset="0.7126" stop-color="#6f02ed"/><stop offset="0.7156" stop-color="#7603f9"/><stop offset="0.7186" stop-color="#7b03fd"/><stop offset="0.7246" stop-color="#7f04ff"/><stop offset="0.7335" stop-color="#8505fd"/><stop offset="0.7455" stop-color="#8b07f4"/><stop offset="0.7575" stop-color="#9108e6"/><stop offset="0.7695" stop-color="#960bd2"/><stop offset="0.7814" stop-color="#9b0db9"/><stop offset="0.7934" stop-color="#a0109c"/><stop offset="0.8084" stop-color="#a61473"/><stop offset="0.8234" stop-color="#ac1845"/><stop offset="0.8263" stop-color="#ad193f"/><stop offset="1.0000" stop-color="#ac1847"/></linearGradient><linearGradient id="a22" gradientUnits="userSpaceOnUse" x1="0" y1="117.50" x2="0" y2="451.00"><stop offset="0.0000" stop-color="#b42000"/><stop offset="0.0898" stop-color="#bd2a00"/><stop offset="0.1946" stop-color="#bd2a00"/><stop offset="0.2036" stop-color="#b52100"/><stop offset="0.2066" stop-color="#b21e14"/><stop offset="0.2186" stop-color="#a61377"/><stop offset="0.2246" stop-color="#9f0fa2"/><stop offset="0.2305" stop-color="#990cc6"/><stop offset="0.2365" stop-color="#9209e3"/><stop offset="0.2425" stop-color="#8a06f6"/><stop offset="0.2455" stop-color="#8706fb"/><stop offset="0.2665" stop-color="#8104ff"/><stop offset="0.2874" stop-color="#7a03fd"/><stop offset="0.2904" stop-color="#7402f6"/><stop offset="0.2934" stop-color="#6d02e9"/><stop offset="0.2964" stop-color="#6601d6"/><stop offset="0.2994" stop-color="#5c01ba"/><stop offset="0.3024" stop-color="#500095"/><stop offset="0.3084" stop-color="#33003f"/><stop offset="0.3114" stop-color="#1a0011"/><stop offset="0.3144" stop-color="#000000"/><stop offset="0.7006" stop-color="#000000"/><stop offset="0.7036" stop-color="#260024"/><stop offset="0.7066" stop-color="#3a0051"/><stop offset="0.7126" stop-color="#5500a5"/><stop offset="0.7156" stop-color="#6001c8"/><stop offset="0.7186" stop-color="#6901de"/><stop offset="0.7216" stop-color="#7002ef"/><stop offset="0.7246" stop-color="#7703f9"/><stop offset="0.7275" stop-color="#7b03fe"/><stop offset="0.7335" stop-color="#7f04ff"/><stop offset="0.7425" stop-color="#8505fd"/><stop offset="0.7545" stop-color="#8b07f4"/><stop offset="0.7665" stop-color="#9108e6"/><stop offset="0.7784" stop-color="#960bd2"/><stop offset="0.7904" stop-color="#9b0db9"/><stop offset="0.8024" stop-color="#a0109b"/><stop offset="0.8174" stop-color="#a71472"/><stop offset="0.8323" stop-color="#ac1844"/><stop offset="0.8353" stop-color="#ad193f"/><stop offset="1.0000" stop-color="#ae1a38"/></linearGradient><linearGradient id="a23" gradientUnits="userSpaceOnUse" x1="0" y1="117.50" x2="0" y2="451.00"><stop offset="0.0000" stop-color="#b42000"/><stop offset="0.0898" stop-color="#bd2a00"/><stop offset="0.1796" stop-color="#bd2a00"/><stop offset="0.1886" stop-color="#b62200"/><stop offset="0.1916" stop-color="#b31f0a"/><stop offset="0.2036" stop-color="#a7146e"/><stop offset="0.2126" stop-color="#9d0eae"/><stop offset="0.2186" stop-color="#970bd0"/><stop offset="0.2246" stop-color="#8f08e9"/><stop offset="0.2305" stop-color="#8806f9"/><stop offset="0.2575" stop-color="#8004ff"/><stop offset="0.2784" stop-color="#7a03fd"/><stop offset="0.2814" stop-color="#7402f6"/><stop offset="0.2844" stop-color="#6e02ea"/><stop offset="0.2874" stop-color="#6601d8"/><stop offset="0.2904" stop-color="#5d01bd"/><stop offset="0.2934" stop-color="#510099"/><stop offset="0.2994" stop-color="#340042"/><stop offset="0.3024" stop-color="#1d0015"/><stop offset="0.3054" stop-color="#000000"/><stop offset="0.7006" stop-color="#000000"/><stop offset="0.7036" stop-color="#1a0011"/><stop offset="0.7066" stop-color="#33003e"/><stop offset="0.7126" stop-color="#500095"/><stop offset="0.7156" stop-color="#5c01ba"/><stop offset="0.7186" stop-color="#6601d6"/><stop offset="0.7216" stop-color="#6d02e8"/><stop offset="0.7246" stop-color="#7402f5"/><stop offset="0.7275" stop-color="#7a03fd"/><stop offset="0.7335" stop-color="#7e04ff"/><stop offset="0.7425" stop-color="#8405fd"/><stop offset="0.7545" stop-color="#8b07f5"/><stop offset="0.7665" stop-color="#9108e6"/><stop offset="0.7784" stop-color="#960bd1"/><stop offset="0.7904" stop-color="#9c0db6"/><stop offset="0.8024" stop-color="#a11096"/><stop offset="0.8144" stop-color="#a61473"/><stop offset="0.8353" stop-color="#af1b2f"/><stop offset="1.0000" stop-color="#b11c20"/></linearGradient><linearGradient id="a24" gradientUnits="userSpaceOnUse" x1="0" y1="117.50" x2="0" y2="451.00"><stop offset="0.0000" stop-color="#b42000"/><stop offset="0.0898" stop-color="#bd2a00"/><stop offset="0.1737" stop-color="#bd2a00"/><stop offset="0.1826" stop-color="#b62100"/><stop offset="0.1856" stop-color="#b31e0e"/><stop offset="0.1946" stop-color="#a9165c"/><stop offset="0.2036" stop-color="#a00fa1"/><stop offset="0.2096" stop-color="#990cc6"/><stop offset="0.2126" stop-color="#950ad6"/><stop offset="0.2186" stop-color="#8e08ee"/><stop offset="0.2246" stop-color="#8706fb"/><stop offset="0.2545" stop-color="#7f04ff"/><stop offset="0.2725" stop-color="#7b03fd"/><stop offset="0.2754" stop-color="#7703f9"/><stop offset="0.2784" stop-color="#7002ef"/><stop offset="0.2814" stop-color="#6901de"/><stop offset="0.2844" stop-color="#6001c8"/><stop offset="0.2874" stop-color="#5500a5"/><stop offset="0.2934" stop-color="#3a0051"/><stop offset="0.2964" stop-color="#260024"/><stop offset="0.2994" stop-color="#000000"/><stop offset="0.7036" stop-color="#000000"/><stop offset="0.7066" stop-color="#2a002b"/><stop offset="0.7126" stop-color="#4b0084"/><stop offset="0.7156" stop-color="#5700ab"/><stop offset="0.7186" stop-color="#6201cc"/><stop offset="0.7216" stop-color="#6a01e1"/><stop offset="0.7246" stop-color="#7102f1"/><stop offset="0.7275" stop-color="#7803fb"/><stop offset="0.7365" stop-color="#7f04ff"/><stop offset="0.7455" stop-color="#8505fd"/><stop offset="0.7575" stop-color="#8c07f2"/><stop offset="0.7665" stop-color="#9109e5"/><stop offset="0.7784" stop-color="#970bcc"/><stop offset="0.7874" stop-color="#9c0db5"/><stop offset="0.7994" stop-color="#a21192"/><stop offset="0.8144" stop-color="#a9165f"/><stop offset="0.8353" stop-color="#b31e0f"/><stop offset="0.8383" stop-color="#b31f0b"/><stop offset="0.8683" stop-color="#b42000"/><stop offset="1.0000" stop-color="#ba2600"/></linearGradient><clipPath id="clipa"><rect x="99.00" y="117.50" width="368.00" height="333.50"/></clipPath><linearGradient id="b0" gradientUnits="userSpaceOnUse" x1="0" y1="117.50" x2="0" y2="451.00"><stop offset="0.0000" stop-color="#b42000"/><stop offset="0.1916" stop-color="#b21e12"/><stop offset="0.2066" stop-color="#aa1753"/><stop offset="0.2186" stop-color="#a41284"/><stop offset="0.2305" stop-color="#9d0eaf"/><stop offset="0.2395" stop-color="#980bca"/><stop offset="0.2515" stop-color="#9108e6"/><stop offset="0.2605" stop-color="#8b07f4"/><stop offset="0.2665" stop-color="#8706fb"/><stop offset="0.2784" stop-color="#8004ff"/><stop offset="0.2874" stop-color="#7b03fe"/><stop offset="0.2904" stop-color="#7703f9"/><stop offset="0.2934" stop-color="#7002ef"/><stop offset="0.2964" stop-color="#6901de"/><stop offset="0.2994" stop-color="#6101c8"/><stop offset="0.3024" stop-color="#5600a6"/><stop offset="0.3084" stop-color="#3a0051"/><stop offset="0.3114" stop-color="#260024"/><stop offset="0.3144" stop-color="#000000"/><stop offset="0.6826" stop-color="#000000"/><stop offset="0.6856" stop-color="#22001d"/><stop offset="0.6886" stop-color="#37004a"/><stop offset="0.6946" stop-color="#54009f"/><stop offset="0.6976" stop-color="#5f01c3"/><stop offset="0.7006" stop-color="#6801db"/><stop offset="0.7036" stop-color="#6f02ec"/><stop offset="0.7066" stop-color="#7602f8"/><stop offset="0.7096" stop-color="#7b03fd"/><stop offset="0.7186" stop-color="#8004ff"/><stop offset="0.7305" stop-color="#8706fb"/><stop offset="0.7365" stop-color="#8b07f4"/><stop offset="0.7455" stop-color="#9209e3"/><stop offset="0.7545" stop-color="#980bca"/><stop offset="0.7635" stop-color="#9e0eab"/><stop offset="0.7725" stop-color="#a41286"/><stop offset="0.7844" stop-color="#ab174f"/><stop offset="0.7994" stop-color="#b42003"/><stop offset="0.8024" stop-color="#b62100"/><stop offset="0.8084" stop-color="#b82400"/><stop offset="1.0000" stop-color="#b62200"/></linearGradient><linearGradient id="b1" gradientUnits="userSpaceOnUse" x1="0" y1="117.50" x2="0" y2="451.00"><stop offset="0.0000" stop-color="#b21d18"/><stop offset="0.1916" stop-color="#b21e10"/><stop offset="0.1946" stop-color="#b21e14"/><stop offset="0.2126" stop-color="#a91562"/><stop offset="0.2246" stop-color="#a21191"/><stop offset="0.2335" stop-color="#9d0eb0"/><stop offset="0.2425" stop-color="#980bcb"/><stop offset="0.2545" stop-color="#9008e7"/><stop offset="0.2635" stop-color="#8a07f5"/><stop offset="0.2725" stop-color="#8505fd"/><stop offset="0.2814" stop-color="#7f04ff"/><stop offset="0.2874" stop-color="#7b03fe"/><stop offset="0.2904" stop-color="#7703f9"/><stop offset="0.2934" stop-color="#7002ef"/><stop offset="0.2964" stop-color="#6901de"/><stop offset="0.2994" stop-color="#6101c8"/><stop offset="0.3024" stop-color="#5600a6"/><stop offset="0.3084" stop-color="#3a0051"/><stop offset="0.3114" stop-color="#260024"/><stop offset="0.3144" stop-color="#000000"/><stop offset="0.6796" stop-color="#000000"/><stop offset="0.6826" stop-color="#090002"/><stop offset="0.6856" stop-color="#2c0030"/><stop offset="0.6916" stop-color="#4c0088"/><stop offset="0.6946" stop-color="#5800af"/><stop offset="0.6976" stop-color="#6301cf"/><stop offset="0.7006" stop-color="#6b01e3"/><stop offset="0.7036" stop-color="#7202f2"/><stop offset="0.7066" stop-color="#7803fb"/><stop offset="0.7156" stop-color="#8004ff"/><stop offset="0.7275" stop-color="#8706fa"/><stop offset="0.7335" stop-color="#8c07f3"/><stop offset="0.7425" stop-color="#9209e1"/><stop offset="0.7515" stop-color="#980cc8"/><stop offset="0.7605" stop-color="#9e0fa8"/><stop offset="0.7695" stop-color="#a41283"/><stop offset="0.7814" stop-color="#ac184b"/><stop offset="0.7964" stop-color="#b42000"/><stop offset="0.8054" stop-color="#b82400"/><stop offset="1.0000" stop-color="#b62200"/></linearGradient><linearGradient id="b2" gradientUnits="userSpaceOnUse" x1="0" y1="117.50" x2="0" y2="451.00"><stop offset="0.0000" stop-color="#b01b28"/><stop offset="0.1737" stop-color="#b21e10"/><stop offset="0.2126" stop-color="#b21e10"/><stop offset="0.2275" stop-color="#ab1752"/><stop offset="0.2395" stop-color="#a41283"/><stop offset="0.2515" stop-color="#9d0eae"/><stop offset="0.2605" stop-color="#980bc9"/><stop offset="0.2695" stop-color="#9309df"/><stop offset="0.2784" stop-color="#8d07f0"/><stop offset="0.2874" stop-color="#8706fa"/><stop offset="0.2964" stop-color="#8004ff"/><stop offset="0.3024" stop-color="#7a03fd"/><stop offset="0.3054" stop-color="#7402f6"/><stop offset="0.3084" stop-color="#6d02e9"/><stop offset="0.3114" stop-color="#6601d6"/><stop offset="0.3144" stop-color="#5c01bb"/><stop offset="0.3174" stop-color="#510096"/><stop offset="0.3234" stop-color="#33003f"/><stop offset="0.3263" stop-color="#1b0012"/><stop offset="0.3293" stop-color="#000000"/><stop offset="0.6737" stop-color="#000000"/><stop offset="0.6766" stop-color="#200019"/><stop offset="0.6796" stop-color="#360046"/><stop offset="0.6856" stop-color="#53009c"/><stop offset="0.6886" stop-color="#5e01c0"/><stop offset="0.6916" stop-color="#6701da"/><stop offset="0.6946" stop-color="#6e02eb"/><stop offset="0.6976" stop-color="#7502f7"/><stop offset="0.7006" stop-color="#7b03fd"/><stop offset="0.7066" stop-color="#8004ff"/><stop offset="0.7126" stop-color="#8505fd"/><stop offset="0.7216" stop-color="#8c07f2"/><stop offset="0.7305" stop-color="#9209e0"/><stop offset="0.7395" stop-color="#990cc6"/><stop offset="0.7485" stop-color="#9f0fa6"/><stop offset="0.7575" stop-color="#a41280"/><stop offset="0.7665" stop-color="#aa1657"/><stop offset="0.7814" stop-color="#b31e0c"/><stop offset="0.7844" stop-color="#b52000"/><stop offset="0.7904" stop-color="#b82400"/><stop offset="1.0000" stop-color="#b62200"/></linearGradient><linearGradient id="b3" gradientUnits="userSpaceOnUse" x1="0" y1="117.50" x2="0" y2="451.00"><stop offset="0.0000" stop-color="#ae1a38"/><stop offset="0.1737" stop-color="#b21e10"/><stop offset="0.2365" stop-color="#b21e10"/><stop offset="0.2395" stop-color="#b21e13"/><stop offset="0.2635" stop-color="#a5137a"/><stop offset="0.2754" stop-color="#9f0fa6"/><stop offset="0.2844" stop-color="#990cc2"/><stop offset="0.2934" stop-color="#940ada"/><stop offset="0.3024" stop-color="#8e08ec"/><stop offset="0.3114" stop-color="#8906f8"/><stop offset="0.3204" stop-color="#7f04ff"/><stop offset="0.3234" stop-color="#7b03fd"/><stop offset="0.3263" stop-color="#7502f7"/><stop offset="0.3293" stop-color="#6e02ea"/><stop offset="0.3323" stop-color="#6601d8"/><stop offset="0.3353" stop-color="#5d01be"/><stop offset="0.3383" stop-color="#52009a"/><stop offset="0.3443" stop-color="#350043"/><stop offset="0.3473" stop-color="#1e0016"/><stop offset="0.3503" stop-color="#000000"/><stop offset="0.6647" stop-color="#000000"/><stop offset="0.6677" stop-color="#290029"/><stop offset="0.6737" stop-color="#4a0081"/><stop offset="0.6766" stop-color="#5700a9"/><stop offset="0.6796" stop-color="#6201cb"/><stop offset="0.6826" stop-color="#6901e0"/><stop offset="0.6856" stop-color="#7102f0"/><stop offset="0.6886" stop-color="#7703fa"/><stop offset="0.6946" stop-color="#8004ff"/><stop offset="0.7036" stop-color="#8a06f6"/><stop offset="0.7096" stop-color="#8e08ed"/><stop offset="0.7186" stop-color="#950ad8"/><stop offset="0.7275" stop-color="#9b0dbc"/><stop offset="0.7425" stop-color="#a41280"/><stop offset="0.7515" stop-color="#aa1657"/><stop offset="0.7665" stop-color="#b31e0c"/><stop offset="0.7695" stop-color="#b52000"/><stop offset="0.7754" stop-color="#b82400"/><stop offset="1.0000" stop-color="#b62200"/></linearGradient><linearGradient id="b4" gradientUnits="userSpaceOnUse" x1="0" y1="117.50" x2="0" y2="451.00"><stop offset="0.0000" stop-color="#ab174f"/><stop offset="0.1737" stop-color="#b21e11"/><stop offset="0.2994" stop-color="#b21e10"/><stop offset="0.3024" stop-color="#b21d19"/><stop offset="0.3174" stop-color="#a41283"/><stop offset="0.3234" stop-color="#9e0fa7"/><stop offset="0.3293" stop-color="#990cc6"/><stop offset="0.3383" stop-color="#8f08e9"/><stop offset="0.3443" stop-color="#8906f8"/><stop offset="0.3473" stop-color="#7803fb"/><stop offset="0.3503" stop-color="#7102f1"/><stop offset="0.3533" stop-color="#6a01e2"/><stop offset="0.3563" stop-color="#6301ce"/><stop offset="0.3593" stop-color="#5800ad"/><stop offset="0.3623" stop-color="#4c0086"/><stop offset="0.3683" stop-color="#2b002e"/><stop offset="0.3713" stop-color="#000000"/><stop offset="0.6407" stop-color="#000000"/><stop offset="0.6437" stop-color="#1c0013"/><stop offset="0.6467" stop-color="#330040"/><stop offset="0.6527" stop-color="#510097"/><stop offset="0.6557" stop-color="#5c01bb"/><stop offset="0.6587" stop-color="#6601d7"/><stop offset="0.6617" stop-color="#6d02e9"/><stop offset="0.6647" stop-color="#7402f6"/><stop offset="0.6677" stop-color="#8305fe"/><stop offset="0.6707" stop-color="#8b07f5"/><stop offset="0.6766" stop-color="#9209e1"/><stop offset="0.6796" stop-color="#960ad4"/><stop offset="0.6856" stop-color="#9c0eb3"/><stop offset="0.6946" stop-color="#a61375"/><stop offset="0.7066" stop-color="#b21e13"/><stop offset="0.7096" stop-color="#b52100"/><stop offset="0.7126" stop-color="#b82400"/><stop offset="1.0000" stop-color="#b52100"/></linearGradient><linearGradient id="b5" gradientUnits="userSpaceOnUse" x1="0" y1="117.50" x2="0" y2="451.00"><stop offset="0.0000" stop-color="#a7146d"/><stop offset="0.1737" stop-color="#b21e11"/><stop offset="0.3263" stop-color="#b21e10"/><stop offset="0.3293" stop-color="#b11c1e"/><stop offset="0.3413" stop-color="#a61474"/><stop offset="0.3473" stop-color="#a1109a"/><stop offset="0.3533" stop-color="#9b0dbb"/><stop offset="0.3593" stop-color="#950ad7"/><stop offset="0.3653" stop-color="#8f08eb"/><stop offset="0.3713" stop-color="#8806f9"/><stop offset="0.3743" stop-color="#7703f9"/><stop offset="0.3772" stop-color="#7002ee"/><stop offset="0.3802" stop-color="#6901de"/><stop offset="0.3832" stop-color="#6001c7"/><stop offset="0.3862" stop-color="#5500a5"/><stop offset="0.3922" stop-color="#390050"/><stop offset="0.3952" stop-color="#260023"/><stop offset="0.3982" stop-color="#000000"/><stop offset="0.6168" stop-color="#000000"/><stop offset="0.6198" stop-color="#260023"/><stop offset="0.6228" stop-color="#39004f"/><stop offset="0.6287" stop-color="#5500a4"/><stop offset="0.6317" stop-color="#6001c7"/><stop offset="0.6347" stop-color="#6801de"/><stop offset="0.6377" stop-color="#7002ee"/><stop offset="0.6407" stop-color="#7603f9"/><stop offset="0.6437" stop-color="#8806f9"/><stop offset="0.6497" stop-color="#9008e9"/><stop offset="0.6527" stop-color="#9309dd"/><stop offset="0.6587" stop-color="#9a0cbf"/><stop offset="0.6677" stop-color="#a41284"/><stop offset="0.6737" stop-color="#aa1755"/><stop offset="0.6826" stop-color="#b31f0a"/><stop offset="0.6856" stop-color="#b62200"/><stop offset="0.8234" stop-color="#b82400"/><stop offset="1.0000" stop-color="#b42000"/></linearGradient><linearGradient id="b6" gradientUnits="userSpaceOnUse" x1="0" y1="117.50" x2="0" y2="451.00"><stop offset="0.0000" stop-color="#a31289"/><stop offset="0.0749" stop-color="#aa1658"/><stop offset="0.1737" stop-color="#b21e11"/><stop offset="0.3503" stop-color="#b21e10"/><stop offset="0.3533" stop-color="#b21d16"/><stop offset="0.3683" stop-color="#a41280"/><stop offset="0.3743" stop-color="#9f0fa5"/><stop offset="0.3802" stop-color="#990cc5"/><stop offset="0.3892" stop-color="#9008e8"/><stop offset="0.3952" stop-color="#8906f7"/><stop offset="0.3982" stop-color="#7903fc"/><stop offset="0.4012" stop-color="#7202f3"/><stop offset="0.4042" stop-color="#6b01e4"/><stop offset="0.4072" stop-color="#6401d1"/><stop offset="0.4102" stop-color="#5900b1"/><stop offset="0.4132" stop-color="#4d008b"/><stop offset="0.4162" stop-color="#3f005f"/><stop offset="0.4192" stop-color="#2e0033"/><stop offset="0.4222" stop-color="#0f0005"/><stop offset="0.4251" stop-color="#000000"/><stop offset="0.5868" stop-color="#000000"/><stop offset="0.5898" stop-color="#260024"/><stop offset="0.5928" stop-color="#3a0050"/><stop offset="0.5988" stop-color="#5500a5"/><stop offset="0.6018" stop-color="#6001c7"/><stop offset="0.6048" stop-color="#6901de"/><stop offset="0.6078" stop-color="#7002ee"/><stop offset="0.6108" stop-color="#7703f9"/><stop offset="0.6138" stop-color="#8806f9"/><stop offset="0.6198" stop-color="#8f08e9"/><stop offset="0.6228" stop-color="#9309de"/><stop offset="0.6287" stop-color="#990cc2"/><stop offset="0.6347" stop-color="#a00f9f"/><stop offset="0.6407" stop-color="#a61376"/><stop offset="0.6557" stop-color="#b42000"/><stop offset="0.8832" stop-color="#b42000"/><stop offset="1.0000" stop-color="#b11c20"/></linearGradient><linearGradient id="b7" gradientUnits="userSpaceOnUse" x1="0" y1="117.50" x2="0" y2="451.00"><stop offset="0.0000" stop-color="#9f0fa3"/><stop offset="0.0719" stop-color="#a7146b"/><stop offset="0.1766" stop-color="#b21e10"/><stop offset="0.3743" stop-color="#b21e10"/><stop offset="0.3772" stop-color="#b21d17"/><stop offset="0.3922" stop-color="#a41282"/><stop offset="0.3982" stop-color="#9f0fa6"/><stop offset="0.4042" stop-color="#990cc6"/><stop offset="0.4132" stop-color="#9008e9"/><stop offset="0.4192" stop-color="#8906f8"/><stop offset="0.4222" stop-color="#7803fb"/><stop offset="0.4251" stop-color="#7202f2"/><stop offset="0.4281" stop-color="#6b01e3"/><stop offset="0.4311" stop-color="#6301cf"/><stop offset="0.4341" stop-color="#5800af"/><stop offset="0.4371" stop-color="#4c0088"/><stop offset="0.4431" stop-color="#2c0030"/><stop offset="0.4461" stop-color="#090002"/><stop offset="0.4491" stop-color="#000000"/><stop offset="0.5449" stop-color="#000000"/><stop offset="0.5479" stop-color="#100006"/><stop offset="0.5509" stop-color="#2e0034"/><stop offset="0.5539" stop-color="#3f0060"/><stop offset="0.5569" stop-color="#4d008c"/><stop offset="0.5599" stop-color="#5900b2"/><stop offset="0.5629" stop-color="#6401d1"/><stop offset="0.5659" stop-color="#6b01e5"/><stop offset="0.5689" stop-color="#7202f3"/><stop offset="0.5719" stop-color="#7903fc"/><stop offset="0.5749" stop-color="#8906f7"/><stop offset="0.5808" stop-color="#9008e7"/><stop offset="0.5898" stop-color="#9a0cc0"/><stop offset="0.5958" stop-color="#a0109e"/><stop offset="0.6018" stop-color="#a61377"/><stop offset="0.6168" stop-color="#b41f06"/><stop offset="0.6198" stop-color="#b42000"/><stop offset="0.8263" stop-color="#b42000"/><stop offset="1.0000" stop-color="#ad193f"/></linearGradient><linearGradient id="b8" gradientUnits="userSpaceOnUse" x1="0" y1="117.50" x2="0" y2="451.00"><stop offset="0.0000" stop-color="#970bce"/><stop offset="0.1138" stop-color="#a0109c"/><stop offset="0.2515" stop-color="#ab174e"/><stop offset="0.3503" stop-color="#af1b30"/><stop offset="0.4072" stop-color="#b42000"/><stop offset="0.4581" stop-color="#b72300"/><stop offset="0.4611" stop-color="#b21d15"/><stop offset="0.4641" stop-color="#ad1941"/><stop offset="0.4671" stop-color="#9d0ead"/><stop offset="0.4701" stop-color="#8706fa"/><stop offset="0.4731" stop-color="#6d02e8"/><stop offset="0.4760" stop-color="#4b0084"/><stop offset="0.4790" stop-color="#000000"/><stop offset="0.5150" stop-color="#000000"/><stop offset="0.5180" stop-color="#6001c7"/><stop offset="0.5210" stop-color="#8806f9"/><stop offset="0.5240" stop-color="#a51379"/><stop offset="0.5269" stop-color="#be2c00"/><stop offset="0.5299" stop-color="#c13000"/><stop offset="0.5419" stop-color="#bb2800"/><stop offset="0.5928" stop-color="#b42000"/><stop offset="0.6497" stop-color="#af1b30"/><stop offset="0.7485" stop-color="#ab174e"/><stop offset="0.8443" stop-color="#a41284"/><stop offset="0.9251" stop-color="#9e0fa8"/><stop offset="1.0000" stop-color="#990cc4"/></linearGradient><linearGradient id="b9" gradientUnits="userSpaceOnUse" x1="0" y1="117.50" x2="0" y2="451.00"><stop offset="0.0000" stop-color="#8c07f3"/><stop offset="0.0719" stop-color="#9309dd"/><stop offset="0.1497" stop-color="#9b0dbc"/><stop offset="0.1766" stop-color="#9d0ead"/><stop offset="0.2515" stop-color="#a7146c"/><stop offset="0.2994" stop-color="#a9165e"/><stop offset="0.3413" stop-color="#a0109b"/><stop offset="0.3743" stop-color="#990cc4"/><stop offset="0.4222" stop-color="#9d0eb0"/><stop offset="0.4251" stop-color="#9d0eae"/><stop offset="0.4341" stop-color="#a41286"/><stop offset="0.4431" stop-color="#aa1659"/><stop offset="0.4461" stop-color="#ac1845"/><stop offset="0.4521" stop-color="#b21e10"/><stop offset="0.4551" stop-color="#b52100"/><stop offset="0.4581" stop-color="#b82400"/><stop offset="0.4671" stop-color="#b42000"/><stop offset="0.4701" stop-color="#ad193d"/><stop offset="0.4731" stop-color="#a5127f"/><stop offset="0.4760" stop-color="#9b0db8"/><stop offset="0.4790" stop-color="#8e08ec"/><stop offset="0.4820" stop-color="#7c03fe"/><stop offset="0.4850" stop-color="#6701d9"/><stop offset="0.4880" stop-color="#4e008d"/><stop offset="0.4910" stop-color="#3c0056"/><stop offset="0.4940" stop-color="#240021"/><stop offset="0.5000" stop-color="#2c0030"/><stop offset="0.5030" stop-color="#43006a"/><stop offset="0.5060" stop-color="#5e01c1"/><stop offset="0.5090" stop-color="#7602f8"/><stop offset="0.5120" stop-color="#9f0fa1"/><stop offset="0.5150" stop-color="#c02f00"/><stop offset="0.5180" stop-color="#dc6a00"/><stop offset="0.5210" stop-color="#f5c800"/><stop offset="0.5240" stop-color="#e89100"/><stop offset="0.5269" stop-color="#d65a00"/><stop offset="0.5299" stop-color="#c33200"/><stop offset="0.5569" stop-color="#b52100"/><stop offset="0.5599" stop-color="#b41f06"/><stop offset="0.5719" stop-color="#ae1a34"/><stop offset="0.5838" stop-color="#aa165a"/><stop offset="0.6018" stop-color="#a3118d"/><stop offset="0.6168" stop-color="#9c0eb3"/><stop offset="0.6257" stop-color="#990cc4"/><stop offset="0.6587" stop-color="#a0109b"/><stop offset="0.7006" stop-color="#a9165e"/><stop offset="0.7515" stop-color="#a7146e"/><stop offset="0.8263" stop-color="#9d0eaf"/><stop offset="0.9162" stop-color="#950ad4"/><stop offset="1.0000" stop-color="#8e08ed"/></linearGradient><linearGradient id="b10" gradientUnits="userSpaceOnUse" x1="0" y1="117.50" x2="0" y2="451.00"><stop offset="0.0000" stop-color="#6c01e7"/><stop offset="0.0928" stop-color="#7502f7"/><stop offset="0.1856" stop-color="#7d03fe"/><stop offset="0.2695" stop-color="#8405fd"/><stop offset="0.3503" stop-color="#8c07f2"/><stop offset="0.3653" stop-color="#9109e4"/><stop offset="0.3832" stop-color="#980bcb"/><stop offset="0.3892" stop-color="#9a0cc0"/><stop offset="0.3982" stop-color="#9e0fa8"/><stop offset="0.4132" stop-color="#a61379"/><stop offset="0.4251" stop-color="#ab174d"/><stop offset="0.4311" stop-color="#b21d15"/><stop offset="0.4341" stop-color="#b52100"/><stop offset="0.4461" stop-color="#c13000"/><stop offset="0.4611" stop-color="#cb4100"/><stop offset="0.4641" stop-color="#cb4100"/><stop offset="0.4731" stop-color="#c43400"/><stop offset="0.4760" stop-color="#bc2800"/><stop offset="0.4790" stop-color="#a7146e"/><stop offset="0.4820" stop-color="#9008e9"/><stop offset="0.4850" stop-color="#7b03fe"/><stop offset="0.4880" stop-color="#6501d4"/><stop offset="0.4910" stop-color="#470079"/><stop offset="0.4940" stop-color="#340043"/><stop offset="0.5000" stop-color="#39004f"/><stop offset="0.5030" stop-color="#43006a"/><stop offset="0.5060" stop-color="#5e01c1"/><stop offset="0.5090" stop-color="#7602f8"/><stop offset="0.5120" stop-color="#9f0fa5"/><stop offset="0.5150" stop-color="#bf2e00"/><stop offset="0.5180" stop-color="#db6700"/><stop offset="0.5210" stop-color="#f4c200"/><stop offset="0.5240" stop-color="#eb9e00"/><stop offset="0.5269" stop-color="#df7300"/><stop offset="0.5299" stop-color="#d35100"/><stop offset="0.5509" stop-color="#c83b00"/><stop offset="0.5689" stop-color="#b72300"/><stop offset="0.5719" stop-color="#b41f04"/><stop offset="0.5749" stop-color="#b11c1f"/><stop offset="0.5868" stop-color="#aa165b"/><stop offset="0.5988" stop-color="#a21191"/><stop offset="0.6108" stop-color="#9a0cbf"/><stop offset="0.6138" stop-color="#990cc7"/><stop offset="0.6287" stop-color="#930adc"/><stop offset="0.6497" stop-color="#8c07f2"/><stop offset="0.7515" stop-color="#8706fb"/><stop offset="1.0000" stop-color="#8004ff"/></linearGradient><linearGradient id="b11" gradientUnits="userSpaceOnUse" x1="0" y1="117.50" x2="0" y2="451.00"><stop offset="0.0000" stop-color="#43006d"/><stop offset="0.0988" stop-color="#500095"/><stop offset="0.1766" stop-color="#6001c5"/><stop offset="0.2994" stop-color="#7202f2"/><stop offset="0.3204" stop-color="#7a03fd"/><stop offset="0.3473" stop-color="#8405fe"/><stop offset="0.3593" stop-color="#8906f8"/><stop offset="0.3713" stop-color="#8e08ed"/><stop offset="0.3862" stop-color="#940ad9"/><stop offset="0.3892" stop-color="#960bd1"/><stop offset="0.3982" stop-color="#9f0fa6"/><stop offset="0.4102" stop-color="#a9165e"/><stop offset="0.4132" stop-color="#ac1844"/><stop offset="0.4162" stop-color="#b21d15"/><stop offset="0.4192" stop-color="#b72300"/><stop offset="0.4371" stop-color="#d24f00"/><stop offset="0.4491" stop-color="#e07600"/><stop offset="0.4521" stop-color="#e07700"/><stop offset="0.4731" stop-color="#d96100"/><stop offset="0.4760" stop-color="#d55600"/><stop offset="0.4790" stop-color="#cb4000"/><stop offset="0.4820" stop-color="#c02e00"/><stop offset="0.4850" stop-color="#b42001"/><stop offset="0.4880" stop-color="#a9165c"/><stop offset="0.4910" stop-color="#9e0eab"/><stop offset="0.4940" stop-color="#9209e0"/><stop offset="0.5000" stop-color="#8c07f3"/><stop offset="0.5030" stop-color="#9109e4"/><stop offset="0.5060" stop-color="#960bd0"/><stop offset="0.5090" stop-color="#a31189"/><stop offset="0.5120" stop-color="#b62200"/><stop offset="0.5150" stop-color="#c73a00"/><stop offset="0.5180" stop-color="#d75b00"/><stop offset="0.5210" stop-color="#e58700"/><stop offset="0.5240" stop-color="#ea9a00"/><stop offset="0.5299" stop-color="#e27c00"/><stop offset="0.5329" stop-color="#de7000"/><stop offset="0.5479" stop-color="#de7000"/><stop offset="0.5509" stop-color="#dd6d00"/><stop offset="0.5599" stop-color="#d45400"/><stop offset="0.5719" stop-color="#c63800"/><stop offset="0.5808" stop-color="#b72300"/><stop offset="0.5838" stop-color="#b21d15"/><stop offset="0.5868" stop-color="#ac1844"/><stop offset="0.5898" stop-color="#a9165e"/><stop offset="0.6018" stop-color="#9f0fa6"/><stop offset="0.6108" stop-color="#960bd1"/><stop offset="0.6138" stop-color="#940ad9"/><stop offset="0.6287" stop-color="#8e08ed"/><stop offset="0.6497" stop-color="#8505fd"/><stop offset="0.6737" stop-color="#7c03fe"/><stop offset="0.7006" stop-color="#7202f2"/><stop offset="0.8263" stop-color="#6601d7"/><stop offset="1.0000" stop-color="#510096"/></linearGradient><linearGradient id="b12" gradientUnits="userSpaceOnUse" x1="0" y1="117.50" x2="0" y2="451.00"><stop offset="0.0000" stop-color="#000000"/><stop offset="0.0030" stop-color="#050001"/><stop offset="0.0120" stop-color="#090002"/><stop offset="0.0449" stop-color="#120008"/><stop offset="0.1737" stop-color="#240020"/><stop offset="0.2485" stop-color="#39004e"/><stop offset="0.2844" stop-color="#4e008e"/><stop offset="0.3114" stop-color="#5b01b8"/><stop offset="0.3234" stop-color="#6501d4"/><stop offset="0.3353" stop-color="#6e02ea"/><stop offset="0.3473" stop-color="#7602f8"/><stop offset="0.3593" stop-color="#7f04ff"/><stop offset="0.3653" stop-color="#8305fe"/><stop offset="0.3743" stop-color="#8a06f7"/><stop offset="0.3832" stop-color="#9008e8"/><stop offset="0.3892" stop-color="#940ad9"/><stop offset="0.3982" stop-color="#9d0ead"/><stop offset="0.4042" stop-color="#a31288"/><stop offset="0.4102" stop-color="#a91660"/><stop offset="0.4132" stop-color="#ac1844"/><stop offset="0.4162" stop-color="#b21d15"/><stop offset="0.4192" stop-color="#b72300"/><stop offset="0.4371" stop-color="#d24f00"/><stop offset="0.4491" stop-color="#e07600"/><stop offset="0.4521" stop-color="#e17800"/><stop offset="0.4701" stop-color="#de7000"/><stop offset="0.4880" stop-color="#d85f00"/><stop offset="0.5000" stop-color="#d55700"/><stop offset="0.5120" stop-color="#d85f00"/><stop offset="0.5299" stop-color="#de7000"/><stop offset="0.5479" stop-color="#e17800"/><stop offset="0.5509" stop-color="#e07600"/><stop offset="0.5629" stop-color="#d24f00"/><stop offset="0.5808" stop-color="#b72300"/><stop offset="0.5838" stop-color="#b21d15"/><stop offset="0.5868" stop-color="#ac1844"/><stop offset="0.5898" stop-color="#a91660"/><stop offset="0.5958" stop-color="#a31288"/><stop offset="0.6018" stop-color="#9d0ead"/><stop offset="0.6108" stop-color="#940ad9"/><stop offset="0.6168" stop-color="#9008e8"/><stop offset="0.6257" stop-color="#8a06f7"/><stop offset="0.6347" stop-color="#8305fe"/><stop offset="0.6407" stop-color="#7f04ff"/><stop offset="0.6527" stop-color="#7602f8"/><stop offset="0.6647" stop-color="#6e02ea"/><stop offset="0.6766" stop-color="#6501d4"/><stop offset="0.6886" stop-color="#5b01b8"/><stop offset="0.7156" stop-color="#4e008e"/><stop offset="0.7515" stop-color="#39004e"/><stop offset="0.8263" stop-color="#240020"/><stop offset="0.9551" stop-color="#120008"/><stop offset="0.9880" stop-color="#090002"/><stop offset="0.9970" stop-color="#050001"/><stop offset="1.0000" stop-color="#000000"/></linearGradient><linearGradient id="b13" gradientUnits="userSpaceOnUse" x1="0" y1="117.50" x2="0" y2="451.00"><stop offset="0.0000" stop-color="#510096"/><stop offset="0.1737" stop-color="#6601d7"/><stop offset="0.2994" stop-color="#7202f2"/><stop offset="0.3263" stop-color="#7c03fe"/><stop offset="0.3503" stop-color="#8505fd"/><stop offset="0.3713" stop-color="#8e08ed"/><stop offset="0.3862" stop-color="#940ad9"/><stop offset="0.3892" stop-color="#960bd1"/><stop offset="0.3982" stop-color="#9f0fa6"/><stop offset="0.4102" stop-color="#a9165e"/><stop offset="0.4132" stop-color="#ac1844"/><stop offset="0.4162" stop-color="#b21d15"/><stop offset="0.4192" stop-color="#b72300"/><stop offset="0.4281" stop-color="#c63800"/><stop offset="0.4401" stop-color="#d45400"/><stop offset="0.4491" stop-color="#dd6d00"/><stop offset="0.4521" stop-color="#de7000"/><stop offset="0.4671" stop-color="#de7000"/><stop offset="0.4701" stop-color="#e27c00"/><stop offset="0.4760" stop-color="#ea9a00"/><stop offset="0.4790" stop-color="#e58700"/><stop offset="0.4820" stop-color="#d75b00"/><stop offset="0.4850" stop-color="#c73a00"/><stop offset="0.4880" stop-color="#b62200"/><stop offset="0.4910" stop-color="#a31189"/><stop offset="0.4940" stop-color="#960bd0"/><stop offset="0.4970" stop-color="#9109e4"/><stop offset="0.5000" stop-color="#8c07f3"/><stop offset="0.5060" stop-color="#9209e0"/><stop offset="0.5090" stop-color="#9e0eab"/><stop offset="0.5120" stop-color="#a9165c"/><stop offset="0.5150" stop-color="#b42001"/><stop offset="0.5180" stop-color="#c02e00"/><stop offset="0.5210" stop-color="#cb4000"/><stop offset="0.5240" stop-color="#d55600"/><stop offset="0.5269" stop-color="#d96100"/><stop offset="0.5479" stop-color="#e07700"/><stop offset="0.5509" stop-color="#e07600"/><stop offset="0.5629" stop-color="#d24f00"/><stop offset="0.5808" stop-color="#b72300"/><stop offset="0.5838" stop-color="#b21d15"/><stop offset="0.5868" stop-color="#ac1844"/><stop offset="0.5898" stop-color="#a9165e"/><stop offset="0.6018" stop-color="#9f0fa6"/><stop offset="0.6108" stop-color="#960bd1"/><stop offset="0.6138" stop-color="#940ad9"/><stop offset="0.6287" stop-color="#8e08ed"/><stop offset="0.6407" stop-color="#8906f8"/><stop offset="0.6527" stop-color="#8405fe"/><stop offset="0.6796" stop-color="#7a03fd"/><stop offset="0.7006" stop-color="#7202f2"/><stop offset="0.8234" stop-color="#6001c5"/><stop offset="0.9012" stop-color="#500095"/><stop offset="1.0000" stop-color="#43006d"/></linearGradient><linearGradient id="b14" gradientUnits="userSpaceOnUse" x1="0" y1="117.50" x2="0" y2="451.00"><stop offset="0.0000" stop-color="#8004ff"/><stop offset="0.2485" stop-color="#8706fb"/><stop offset="0.3503" stop-color="#8c07f2"/><stop offset="0.3713" stop-color="#930adc"/><stop offset="0.3862" stop-color="#990cc7"/><stop offset="0.3892" stop-color="#9a0cbf"/><stop offset="0.4012" stop-color="#a21191"/><stop offset="0.4132" stop-color="#aa165b"/><stop offset="0.4251" stop-color="#b11c1f"/><stop offset="0.4281" stop-color="#b41f04"/><stop offset="0.4311" stop-color="#b72300"/><stop offset="0.4491" stop-color="#c83b00"/><stop offset="0.4701" stop-color="#d35100"/><stop offset="0.4731" stop-color="#df7300"/><stop offset="0.4760" stop-color="#eb9e00"/><stop offset="0.4790" stop-color="#f4c200"/><stop offset="0.4820" stop-color="#db6700"/><stop offset="0.4850" stop-color="#bf2e00"/><stop offset="0.4880" stop-color="#9f0fa5"/><stop offset="0.4910" stop-color="#7602f8"/><stop offset="0.4940" stop-color="#5e01c1"/><stop offset="0.4970" stop-color="#43006a"/><stop offset="0.5000" stop-color="#000000"/><stop offset="0.5030" stop-color="#370049"/><stop offset="0.5060" stop-color="#340043"/><stop offset="0.5090" stop-color="#470079"/><stop offset="0.5120" stop-color="#6501d4"/><stop offset="0.5150" stop-color="#7b03fe"/><stop offset="0.5180" stop-color="#9008e9"/><stop offset="0.5210" stop-color="#a7146e"/><stop offset="0.5240" stop-color="#bc2800"/><stop offset="0.5269" stop-color="#c43400"/><stop offset="0.5359" stop-color="#cb4100"/><stop offset="0.5389" stop-color="#cb4100"/><stop offset="0.5539" stop-color="#c13000"/><stop offset="0.5659" stop-color="#b52100"/><stop offset="0.5689" stop-color="#b21d15"/><stop offset="0.5749" stop-color="#ab174d"/><stop offset="0.5868" stop-color="#a61379"/><stop offset="0.6018" stop-color="#9e0fa8"/><stop offset="0.6108" stop-color="#9a0cc0"/><stop offset="0.6168" stop-color="#980bcb"/><stop offset="0.6347" stop-color="#9109e4"/><stop offset="0.6497" stop-color="#8c07f2"/><stop offset="0.7305" stop-color="#8405fd"/><stop offset="0.8144" stop-color="#7d03fe"/><stop offset="0.9072" stop-color="#7502f7"/><stop offset="1.0000" stop-color="#6c01e7"/></linearGradient><linearGradient id="b15" gradientUnits="userSpaceOnUse" x1="0" y1="117.50" x2="0" y2="451.00"><stop offset="0.0000" stop-color="#8e08ed"/><stop offset="0.0838" stop-color="#950ad4"/><stop offset="0.1737" stop-color="#9d0eaf"/><stop offset="0.2485" stop-color="#a7146e"/><stop offset="0.2994" stop-color="#a9165e"/><stop offset="0.3413" stop-color="#a0109b"/><stop offset="0.3743" stop-color="#990cc4"/><stop offset="0.3832" stop-color="#9c0eb3"/><stop offset="0.3982" stop-color="#a3118d"/><stop offset="0.4162" stop-color="#aa165a"/><stop offset="0.4281" stop-color="#ae1a34"/><stop offset="0.4401" stop-color="#b41f06"/><stop offset="0.4431" stop-color="#b52100"/><stop offset="0.4701" stop-color="#c33200"/><stop offset="0.4731" stop-color="#d65a00"/><stop offset="0.4760" stop-color="#e89100"/><stop offset="0.4790" stop-color="#f5c800"/><stop offset="0.4820" stop-color="#dc6a00"/><stop offset="0.4850" stop-color="#c02f00"/><stop offset="0.4880" stop-color="#9f0fa1"/><stop offset="0.4910" stop-color="#7602f8"/><stop offset="0.4940" stop-color="#5e01c1"/><stop offset="0.4970" stop-color="#43006a"/><stop offset="0.5000" stop-color="#000000"/><stop offset="0.5030" stop-color="#280028"/><stop offset="0.5060" stop-color="#240021"/><stop offset="0.5090" stop-color="#3c0056"/><stop offset="0.5120" stop-color="#4e008d"/><stop offset="0.5150" stop-color="#6701d9"/><stop offset="0.5180" stop-color="#7c03fe"/><stop offset="0.5210" stop-color="#8e08ec"/><stop offset="0.5240" stop-color="#9b0db8"/><stop offset="0.5269" stop-color="#a5127f"/><stop offset="0.5299" stop-color="#ad193d"/><stop offset="0.5329" stop-color="#b42000"/><stop offset="0.5419" stop-color="#b82400"/><stop offset="0.5449" stop-color="#b52100"/><stop offset="0.5479" stop-color="#b21e10"/><stop offset="0.5539" stop-color="#ac1845"/><stop offset="0.5569" stop-color="#aa1659"/><stop offset="0.5659" stop-color="#a41286"/><stop offset="0.5749" stop-color="#9d0eae"/><stop offset="0.5778" stop-color="#9d0eb0"/><stop offset="0.6257" stop-color="#990cc4"/><stop offset="0.6587" stop-color="#a0109b"/><stop offset="0.7006" stop-color="#a9165e"/><stop offset="0.7485" stop-color="#a7146c"/><stop offset="0.8234" stop-color="#9d0ead"/><stop offset="0.8503" stop-color="#9b0dbc"/><stop offset="0.9281" stop-color="#9309dd"/><stop offset="1.0000" stop-color="#8c07f3"/></linearGradient><linearGradient id="b16" gradientUnits="userSpaceOnUse" x1="0" y1="117.50" x2="0" y2="451.00"><stop offset="0.0000" stop-color="#990cc4"/><stop offset="0.0749" stop-color="#9e0fa8"/><stop offset="0.1557" stop-color="#a41284"/><stop offset="0.2515" stop-color="#ab174e"/><stop offset="0.3503" stop-color="#af1b30"/><stop offset="0.4072" stop-color="#b42000"/><stop offset="0.4581" stop-color="#bb2800"/><stop offset="0.4701" stop-color="#c13000"/><stop offset="0.4731" stop-color="#be2c00"/><stop offset="0.4760" stop-color="#a51379"/><stop offset="0.4790" stop-color="#8806f9"/><stop offset="0.4820" stop-color="#6001c7"/><stop offset="0.4850" stop-color="#000000"/><stop offset="0.5210" stop-color="#000000"/><stop offset="0.5240" stop-color="#4b0084"/><stop offset="0.5269" stop-color="#6d02e8"/><stop offset="0.5299" stop-color="#8706fa"/><stop offset="0.5329" stop-color="#9d0ead"/><stop offset="0.5359" stop-color="#ad1941"/><stop offset="0.5389" stop-color="#b21d15"/><stop offset="0.5419" stop-color="#b72300"/><stop offset="0.5928" stop-color="#b42000"/><stop offset="0.6497" stop-color="#af1b30"/><stop offset="0.7485" stop-color="#ab174e"/><stop offset="0.8862" stop-color="#a0109c"/><stop offset="1.0000" stop-color="#970bce"/></linearGradient><linearGradient id="b17" gradientUnits="userSpaceOnUse" x1="0" y1="117.50" x2="0" y2="451.00"><stop offset="0.0000" stop-color="#ad193f"/><stop offset="0.1737" stop-color="#b42000"/><stop offset="0.3802" stop-color="#b42000"/><stop offset="0.3832" stop-color="#b41f06"/><stop offset="0.3982" stop-color="#a61377"/><stop offset="0.4042" stop-color="#a0109e"/><stop offset="0.4102" stop-color="#9a0cc0"/><stop offset="0.4192" stop-color="#9008e7"/><stop offset="0.4251" stop-color="#8906f7"/><stop offset="0.4281" stop-color="#7903fc"/><stop offset="0.4311" stop-color="#7202f3"/><stop offset="0.4341" stop-color="#6b01e5"/><stop offset="0.4371" stop-color="#6401d1"/><stop offset="0.4401" stop-color="#5900b2"/><stop offset="0.4431" stop-color="#4d008c"/><stop offset="0.4461" stop-color="#3f0060"/><stop offset="0.4491" stop-color="#2e0034"/><stop offset="0.4521" stop-color="#100006"/><stop offset="0.4551" stop-color="#000000"/><stop offset="0.5509" stop-color="#000000"/><stop offset="0.5539" stop-color="#090002"/><stop offset="0.5569" stop-color="#2c0030"/><stop offset="0.5629" stop-color="#4c0088"/><stop offset="0.5659" stop-color="#5800af"/><stop offset="0.5689" stop-color="#6301cf"/><stop offset="0.5719" stop-color="#6b01e3"/><stop offset="0.5749" stop-color="#7202f2"/><stop offset="0.5778" stop-color="#7803fb"/><stop offset="0.5808" stop-color="#8906f8"/><stop offset="0.5868" stop-color="#9008e9"/><stop offset="0.5958" stop-color="#990cc6"/><stop offset="0.6018" stop-color="#9f0fa6"/><stop offset="0.6078" stop-color="#a41282"/><stop offset="0.6228" stop-color="#b21d17"/><stop offset="0.6257" stop-color="#b21e10"/><stop offset="0.8234" stop-color="#b21e10"/><stop offset="0.9281" stop-color="#a7146b"/><stop offset="1.0000" stop-color="#9f0fa3"/></linearGradient><linearGradient id="b18" gradientUnits="userSpaceOnUse" x1="0" y1="117.50" x2="0" y2="451.00"><stop offset="0.0000" stop-color="#b11c20"/><stop offset="0.1168" stop-color="#b42000"/><stop offset="0.3443" stop-color="#b42000"/><stop offset="0.3593" stop-color="#a61376"/><stop offset="0.3653" stop-color="#a00f9f"/><stop offset="0.3713" stop-color="#990cc2"/><stop offset="0.3772" stop-color="#9309de"/><stop offset="0.3802" stop-color="#8f08e9"/><stop offset="0.3862" stop-color="#8806f9"/><stop offset="0.3892" stop-color="#7703f9"/><stop offset="0.3922" stop-color="#7002ee"/><stop offset="0.3952" stop-color="#6901de"/><stop offset="0.3982" stop-color="#6001c7"/><stop offset="0.4012" stop-color="#5500a5"/><stop offset="0.4072" stop-color="#3a0050"/><stop offset="0.4102" stop-color="#260024"/><stop offset="0.4132" stop-color="#000000"/><stop offset="0.5749" stop-color="#000000"/><stop offset="0.5778" stop-color="#0f0005"/><stop offset="0.5808" stop-color="#2e0033"/><stop offset="0.5838" stop-color="#3f005f"/><stop offset="0.5868" stop-color="#4d008b"/><stop offset="0.5898" stop-color="#5900b1"/><stop offset="0.5928" stop-color="#6401d1"/><stop offset="0.5958" stop-color="#6b01e4"/><stop offset="0.5988" stop-color="#7202f3"/><stop offset="0.6018" stop-color="#7903fc"/><stop offset="0.6048" stop-color="#8906f7"/><stop offset="0.6108" stop-color="#9008e8"/><stop offset="0.6198" stop-color="#990cc5"/><stop offset="0.6257" stop-color="#9f0fa5"/><stop offset="0.6317" stop-color="#a41280"/><stop offset="0.6467" stop-color="#b21d16"/><stop offset="0.6497" stop-color="#b21e10"/><stop offset="0.8263" stop-color="#b21e11"/><stop offset="0.9251" stop-color="#aa1658"/><stop offset="1.0000" stop-color="#a31289"/></linearGradient><linearGradient id="b19" gradientUnits="userSpaceOnUse" x1="0" y1="117.50" x2="0" y2="451.00"><stop offset="0.0000" stop-color="#b42000"/><stop offset="0.1766" stop-color="#b82400"/><stop offset="0.3144" stop-color="#b62200"/><stop offset="0.3174" stop-color="#b31f0a"/><stop offset="0.3263" stop-color="#aa1755"/><stop offset="0.3323" stop-color="#a41284"/><stop offset="0.3413" stop-color="#9a0cbf"/><stop offset="0.3473" stop-color="#9309dd"/><stop offset="0.3503" stop-color="#9008e9"/><stop offset="0.3563" stop-color="#8806f9"/><stop offset="0.3593" stop-color="#7603f9"/><stop offset="0.3623" stop-color="#7002ee"/><stop offset="0.3653" stop-color="#6801de"/><stop offset="0.3683" stop-color="#6001c7"/><stop offset="0.3713" stop-color="#5500a4"/><stop offset="0.3772" stop-color="#39004f"/><stop offset="0.3802" stop-color="#260023"/><stop offset="0.3832" stop-color="#000000"/><stop offset="0.6018" stop-color="#000000"/><stop offset="0.6048" stop-color="#260023"/><stop offset="0.6078" stop-color="#390050"/><stop offset="0.6138" stop-color="#5500a5"/><stop offset="0.6168" stop-color="#6001c7"/><stop offset="0.6198" stop-color="#6901de"/><stop offset="0.6228" stop-color="#7002ee"/><stop offset="0.6257" stop-color="#7703f9"/><stop offset="0.6287" stop-color="#8806f9"/><stop offset="0.6347" stop-color="#8f08eb"/><stop offset="0.6407" stop-color="#950ad7"/><stop offset="0.6467" stop-color="#9b0dbb"/><stop offset="0.6527" stop-color="#a1109a"/><stop offset="0.6587" stop-color="#a61474"/><stop offset="0.6707" stop-color="#b11c1e"/><stop offset="0.6737" stop-color="#b21e10"/><stop offset="0.8263" stop-color="#b21e11"/><stop offset="1.0000" stop-color="#a7146d"/></linearGradient><linearGradient id="b20" gradientUnits="userSpaceOnUse" x1="0" y1="117.50" x2="0" y2="451.00"><stop offset="0.0000" stop-color="#b52100"/><stop offset="0.2874" stop-color="#b82400"/><stop offset="0.2904" stop-color="#b52100"/><stop offset="0.2934" stop-color="#b21e13"/><stop offset="0.3054" stop-color="#a61375"/><stop offset="0.3144" stop-color="#9c0eb3"/><stop offset="0.3204" stop-color="#960ad4"/><stop offset="0.3234" stop-color="#9209e1"/><stop offset="0.3293" stop-color="#8b07f5"/><stop offset="0.3323" stop-color="#8305fe"/><stop offset="0.3353" stop-color="#7402f6"/><stop offset="0.3383" stop-color="#6d02e9"/><stop offset="0.3413" stop-color="#6601d7"/><stop offset="0.3443" stop-color="#5c01bb"/><stop offset="0.3473" stop-color="#510097"/><stop offset="0.3533" stop-color="#330040"/><stop offset="0.3563" stop-color="#1c0013"/><stop offset="0.3593" stop-color="#000000"/><stop offset="0.6287" stop-color="#000000"/><stop offset="0.6317" stop-color="#2b002e"/><stop offset="0.6377" stop-color="#4c0086"/><stop offset="0.6407" stop-color="#5800ad"/><stop offset="0.6437" stop-color="#6301ce"/><stop offset="0.6467" stop-color="#6a01e2"/><stop offset="0.6497" stop-color="#7102f1"/><stop offset="0.6527" stop-color="#7803fb"/><stop offset="0.6557" stop-color="#8906f8"/><stop offset="0.6617" stop-color="#8f08e9"/><stop offset="0.6707" stop-color="#990cc6"/><stop offset="0.6766" stop-color="#9e0fa7"/><stop offset="0.6826" stop-color="#a41283"/><stop offset="0.6976" stop-color="#b21d19"/><stop offset="0.7006" stop-color="#b21e10"/><stop offset="0.8263" stop-color="#b21e11"/><stop offset="1.0000" stop-color="#ab174f"/></linearGradient><linearGradient id="b21" gradientUnits="userSpaceOnUse" x1="0" y1="117.50" x2="0" y2="451.00"><stop offset="0.0000" stop-color="#b62200"/><stop offset="0.2246" stop-color="#b82400"/><stop offset="0.2305" stop-color="#b52000"/><stop offset="0.2335" stop-color="#b31e0c"/><stop offset="0.2485" stop-color="#aa1657"/><stop offset="0.2575" stop-color="#a41280"/><stop offset="0.2725" stop-color="#9b0dbc"/><stop offset="0.2814" stop-color="#950ad8"/><stop offset="0.2904" stop-color="#8e08ed"/><stop offset="0.2964" stop-color="#8a06f6"/><stop offset="0.3054" stop-color="#8004ff"/><stop offset="0.3114" stop-color="#7703fa"/><stop offset="0.3144" stop-color="#7102f0"/><stop offset="0.3174" stop-color="#6901e0"/><stop offset="0.3204" stop-color="#6201cb"/><stop offset="0.3234" stop-color="#5700a9"/><stop offset="0.3263" stop-color="#4a0081"/><stop offset="0.3323" stop-color="#290029"/><stop offset="0.3353" stop-color="#000000"/><stop offset="0.6497" stop-color="#000000"/><stop offset="0.6527" stop-color="#1e0016"/><stop offset="0.6557" stop-color="#350043"/><stop offset="0.6617" stop-color="#52009a"/><stop offset="0.6647" stop-color="#5d01be"/><stop offset="0.6677" stop-color="#6601d8"/><stop offset="0.6707" stop-color="#6e02ea"/><stop offset="0.6737" stop-color="#7502f7"/><stop offset="0.6766" stop-color="#7b03fd"/><stop offset="0.6796" stop-color="#7f04ff"/><stop offset="0.6886" stop-color="#8906f8"/><stop offset="0.6976" stop-color="#8e08ec"/><stop offset="0.7066" stop-color="#940ada"/><stop offset="0.7156" stop-color="#990cc2"/><stop offset="0.7246" stop-color="#9f0fa6"/><stop offset="0.7365" stop-color="#a5137a"/><stop offset="0.7605" stop-color="#b21e13"/><stop offset="0.7635" stop-color="#b21e10"/><stop offset="0.8263" stop-color="#b21e10"/><stop offset="1.0000" stop-color="#ae1a38"/></linearGradient><linearGradient id="b22" gradientUnits="userSpaceOnUse" x1="0" y1="117.50" x2="0" y2="451.00"><stop offset="0.0000" stop-color="#b62200"/><stop offset="0.2096" stop-color="#b82400"/><stop offset="0.2156" stop-color="#b52000"/><stop offset="0.2186" stop-color="#b31e0c"/><stop offset="0.2335" stop-color="#aa1657"/><stop offset="0.2425" stop-color="#a41280"/><stop offset="0.2515" stop-color="#9f0fa6"/><stop offset="0.2605" stop-color="#990cc6"/><stop offset="0.2695" stop-color="#9209e0"/><stop offset="0.2784" stop-color="#8c07f2"/><stop offset="0.2874" stop-color="#8505fd"/><stop offset="0.2934" stop-color="#8004ff"/><stop offset="0.2994" stop-color="#7b03fd"/><stop offset="0.3024" stop-color="#7502f7"/><stop offset="0.3054" stop-color="#6e02eb"/><stop offset="0.3084" stop-color="#6701da"/><stop offset="0.3114" stop-color="#5e01c0"/><stop offset="0.3144" stop-color="#53009c"/><stop offset="0.3204" stop-color="#360046"/><stop offset="0.3234" stop-color="#200019"/><stop offset="0.3263" stop-color="#000000"/><stop offset="0.6707" stop-color="#000000"/><stop offset="0.6737" stop-color="#1b0012"/><stop offset="0.6766" stop-color="#33003f"/><stop offset="0.6826" stop-color="#510096"/><stop offset="0.6856" stop-color="#5c01bb"/><stop offset="0.6886" stop-color="#6601d6"/><stop offset="0.6916" stop-color="#6d02e9"/><stop offset="0.6946" stop-color="#7402f6"/><stop offset="0.6976" stop-color="#7a03fd"/><stop offset="0.7036" stop-color="#8004ff"/><stop offset="0.7126" stop-color="#8706fa"/><stop offset="0.7216" stop-color="#8d07f0"/><stop offset="0.7305" stop-color="#9309df"/><stop offset="0.7395" stop-color="#980bc9"/><stop offset="0.7485" stop-color="#9d0eae"/><stop offset="0.7605" stop-color="#a41283"/><stop offset="0.7725" stop-color="#ab1752"/><stop offset="0.7874" stop-color="#b21e10"/><stop offset="0.8263" stop-color="#b21e10"/><stop offset="1.0000" stop-color="#b01b28"/></linearGradient><linearGradient id="b23" gradientUnits="userSpaceOnUse" x1="0" y1="117.50" x2="0" y2="451.00"><stop offset="0.0000" stop-color="#b62200"/><stop offset="0.1946" stop-color="#b82400"/><stop offset="0.2036" stop-color="#b42000"/><stop offset="0.2186" stop-color="#ac184b"/><stop offset="0.2305" stop-color="#a41283"/><stop offset="0.2395" stop-color="#9e0fa8"/><stop offset="0.2485" stop-color="#980cc8"/><stop offset="0.2575" stop-color="#9209e1"/><stop offset="0.2665" stop-color="#8c07f3"/><stop offset="0.2725" stop-color="#8706fa"/><stop offset="0.2844" stop-color="#8004ff"/><stop offset="0.2934" stop-color="#7803fb"/><stop offset="0.2964" stop-color="#7202f2"/><stop offset="0.2994" stop-color="#6b01e3"/><stop offset="0.3024" stop-color="#6301cf"/><stop offset="0.3054" stop-color="#5800af"/><stop offset="0.3084" stop-color="#4c0088"/><stop offset="0.3144" stop-color="#2c0030"/><stop offset="0.3174" stop-color="#090002"/><stop offset="0.3204" stop-color="#000000"/><stop offset="0.6856" stop-color="#000000"/><stop offset="0.6886" stop-color="#260024"/><stop offset="0.6916" stop-color="#3a0051"/><stop offset="0.6976" stop-color="#5600a6"/><stop offset="0.7006" stop-color="#6101c8"/><stop offset="0.7036" stop-color="#6901de"/><stop offset="0.7066" stop-color="#7002ef"/><stop offset="0.7096" stop-color="#7703f9"/><stop offset="0.7126" stop-color="#7b03fe"/><stop offset="0.7186" stop-color="#7f04ff"/><stop offset="0.7275" stop-color="#8505fd"/><stop offset="0.7365" stop-color="#8a07f5"/><stop offset="0.7455" stop-color="#9008e7"/><stop offset="0.7575" stop-color="#980bcb"/><stop offset="0.7665" stop-color="#9d0eb0"/><stop offset="0.7754" stop-color="#a21191"/><stop offset="0.7874" stop-color="#a91562"/><stop offset="0.8054" stop-color="#b21e14"/><stop offset="0.8084" stop-color="#b21e10"/><stop offset="1.0000" stop-color="#b21d18"/></linearGradient><linearGradient id="b24" gradientUnits="userSpaceOnUse" x1="0" y1="117.50" x2="0" y2="451.00"><stop offset="0.0000" stop-color="#b62200"/><stop offset="0.1916" stop-color="#b82400"/><stop offset="0.1976" stop-color="#b62100"/><stop offset="0.2006" stop-color="#b42003"/><stop offset="0.2156" stop-color="#ab174f"/><stop offset="0.2275" stop-color="#a41286"/><stop offset="0.2365" stop-color="#9e0eab"/><stop offset="0.2455" stop-color="#980bca"/><stop offset="0.2545" stop-color="#9209e3"/><stop offset="0.2635" stop-color="#8b07f4"/><stop offset="0.2695" stop-color="#8706fb"/><stop offset="0.2814" stop-color="#8004ff"/><stop offset="0.2904" stop-color="#7b03fd"/><stop offset="0.2934" stop-color="#7602f8"/><stop offset="0.2964" stop-color="#6f02ec"/><stop offset="0.2994" stop-color="#6801db"/><stop offset="0.3024" stop-color="#5f01c3"/><stop offset="0.3054" stop-color="#54009f"/><stop offset="0.3114" stop-color="#37004a"/><stop offset="0.3144" stop-color="#22001d"/><stop offset="0.3174" stop-color="#000000"/><stop offset="0.6856" stop-color="#000000"/><stop offset="0.6886" stop-color="#260024"/><stop offset="0.6916" stop-color="#3a0051"/><stop offset="0.6976" stop-color="#5600a6"/><stop offset="0.7006" stop-color="#6101c8"/><stop offset="0.7036" stop-color="#6901de"/><stop offset="0.7066" stop-color="#7002ef"/><stop offset="0.7096" stop-color="#7703f9"/><stop offset="0.7126" stop-color="#7b03fe"/><stop offset="0.7216" stop-color="#8004ff"/><stop offset="0.7335" stop-color="#8706fb"/><stop offset="0.7395" stop-color="#8b07f4"/><stop offset="0.7485" stop-color="#9108e6"/><stop offset="0.7605" stop-color="#980bca"/><stop offset="0.7695" stop-color="#9d0eaf"/><stop offset="0.7814" stop-color="#a41284"/><stop offset="0.7934" stop-color="#aa1753"/><stop offset="0.8084" stop-color="#b21e12"/><stop offset="1.0000" stop-color="#b42000"/></linearGradient><clipPath id="clipb"><rect x="507.00" y="117.50" width="370.00" height="333.50"/></clipPath><linearGradient id="cb" x1="0" y1="0" x2="1" y2="0"><stop offset="0.00" stop-color="#000000"/><stop offset="0.02" stop-color="#240020"/><stop offset="0.04" stop-color="#33003f"/><stop offset="0.06" stop-color="#3e005e"/><stop offset="0.08" stop-color="#48007b"/><stop offset="0.10" stop-color="#510096"/><stop offset="0.12" stop-color="#5800af"/><stop offset="0.14" stop-color="#5f01c4"/><stop offset="0.16" stop-color="#6601d7"/><stop offset="0.18" stop-color="#6c01e7"/><stop offset="0.20" stop-color="#7202f3"/><stop offset="0.22" stop-color="#7803fa"/><stop offset="0.24" stop-color="#7d04fe"/><stop offset="0.26" stop-color="#8204fe"/><stop offset="0.28" stop-color="#8706fa"/><stop offset="0.30" stop-color="#8c07f3"/><stop offset="0.32" stop-color="#9008e7"/><stop offset="0.34" stop-color="#950ad7"/><stop offset="0.36" stop-color="#990cc4"/><stop offset="0.38" stop-color="#9d0eaf"/><stop offset="0.40" stop-color="#a11096"/><stop offset="0.42" stop-color="#a5137b"/><stop offset="0.44" stop-color="#a9165e"/><stop offset="0.46" stop-color="#ad193f"/><stop offset="0.48" stop-color="#b11c20"/><stop offset="0.50" stop-color="#b42000"/><stop offset="0.52" stop-color="#b82400"/><stop offset="0.54" stop-color="#bb2800"/><stop offset="0.56" stop-color="#bf2d00"/><stop offset="0.58" stop-color="#c23200"/><stop offset="0.60" stop-color="#c63700"/><stop offset="0.62" stop-color="#c93d00"/><stop offset="0.64" stop-color="#cc4300"/><stop offset="0.66" stop-color="#cf4900"/><stop offset="0.68" stop-color="#d25000"/><stop offset="0.70" stop-color="#d55700"/><stop offset="0.72" stop-color="#d85f00"/><stop offset="0.74" stop-color="#db6700"/><stop offset="0.76" stop-color="#de7000"/><stop offset="0.78" stop-color="#e17900"/><stop offset="0.80" stop-color="#e48300"/><stop offset="0.82" stop-color="#e78d00"/><stop offset="0.84" stop-color="#ea9700"/><stop offset="0.86" stop-color="#eca200"/><stop offset="0.88" stop-color="#efae00"/><stop offset="0.90" stop-color="#f2ba00"/><stop offset="0.92" stop-color="#f5c700"/><stop offset="0.94" stop-color="#f7d400"/><stop offset="0.96" stop-color="#fae200"/><stop offset="0.98" stop-color="#fcf000"/><stop offset="1.00" stop-color="#ffff00"/></linearGradient></defs>
<g clip-path="url(#clipa)"><g filter="url(#blur)" shape-rendering="crispEdges"><rect x="93.00" y="111.50" width="14.17" height="345.50" fill="url(#a0)"/><rect x="106.67" y="111.50" width="15.83" height="345.50" fill="url(#a1)"/><rect x="122.00" y="111.50" width="15.83" height="345.50" fill="url(#a2)"/><rect x="137.33" y="111.50" width="15.83" height="345.50" fill="url(#a3)"/><rect x="152.67" y="111.50" width="15.83" height="345.50" fill="url(#a4)"/><rect x="168.00" y="111.50" width="15.83" height="345.50" fill="url(#a5)"/><rect x="183.33" y="111.50" width="15.83" height="345.50" fill="url(#a6)"/><rect x="198.67" y="111.50" width="15.83" height="345.50" fill="url(#a7)"/><rect x="214.00" y="111.50" width="15.83" height="345.50" fill="url(#a8)"/><rect x="229.33" y="111.50" width="15.83" height="345.50" fill="url(#a9)"/><rect x="244.67" y="111.50" width="15.83" height="345.50" fill="url(#a10)"/><rect x="260.00" y="111.50" width="15.83" height="345.50" fill="url(#a11)"/><rect x="275.33" y="111.50" width="15.83" height="345.50" fill="url(#a12)"/><rect x="290.67" y="111.50" width="15.83" height="345.50" fill="url(#a13)"/><rect x="306.00" y="111.50" width="15.83" height="345.50" fill="url(#a14)"/><rect x="321.33" y="111.50" width="15.83" height="345.50" fill="url(#a15)"/><rect x="336.67" y="111.50" width="15.83" height="345.50" fill="url(#a16)"/><rect x="352.00" y="111.50" width="15.83" height="345.50" fill="url(#a17)"/><rect x="367.33" y="111.50" width="15.83" height="345.50" fill="url(#a18)"/><rect x="382.67" y="111.50" width="15.83" height="345.50" fill="url(#a19)"/><rect x="398.00" y="111.50" width="15.83" height="345.50" fill="url(#a20)"/><rect x="413.33" y="111.50" width="15.83" height="345.50" fill="url(#a21)"/><rect x="428.67" y="111.50" width="15.83" height="345.50" fill="url(#a22)"/><rect x="444.00" y="111.50" width="15.83" height="345.50" fill="url(#a23)"/><rect x="459.33" y="111.50" width="13.67" height="345.50" fill="url(#a24)"/></g></g><g clip-path="url(#clipb)"><g filter="url(#blur)" shape-rendering="crispEdges"><rect x="501.00" y="111.50" width="14.21" height="345.50" fill="url(#b0)"/><rect x="514.71" y="111.50" width="15.92" height="345.50" fill="url(#b1)"/><rect x="530.12" y="111.50" width="15.92" height="345.50" fill="url(#b2)"/><rect x="545.54" y="111.50" width="15.92" height="345.50" fill="url(#b3)"/><rect x="560.96" y="111.50" width="15.92" height="345.50" fill="url(#b4)"/><rect x="576.38" y="111.50" width="15.92" height="345.50" fill="url(#b5)"/><rect x="591.79" y="111.50" width="15.92" height="345.50" fill="url(#b6)"/><rect x="607.21" y="111.50" width="15.92" height="345.50" fill="url(#b7)"/><rect x="622.62" y="111.50" width="15.92" height="345.50" fill="url(#b8)"/><rect x="638.04" y="111.50" width="15.92" height="345.50" fill="url(#b9)"/><rect x="653.46" y="111.50" width="15.92" height="345.50" fill="url(#b10)"/><rect x="668.87" y="111.50" width="15.92" height="345.50" fill="url(#b11)"/><rect x="684.29" y="111.50" width="15.92" height="345.50" fill="url(#b12)"/><rect x="699.71" y="111.50" width="15.92" height="345.50" fill="url(#b13)"/><rect x="715.12" y="111.50" width="15.92" height="345.50" fill="url(#b14)"/><rect x="730.54" y="111.50" width="15.92" height="345.50" fill="url(#b15)"/><rect x="745.96" y="111.50" width="15.92" height="345.50" fill="url(#b16)"/><rect x="761.37" y="111.50" width="15.92" height="345.50" fill="url(#b17)"/><rect x="776.79" y="111.50" width="15.92" height="345.50" fill="url(#b18)"/><rect x="792.21" y="111.50" width="15.92" height="345.50" fill="url(#b19)"/><rect x="807.62" y="111.50" width="15.92" height="345.50" fill="url(#b20)"/><rect x="823.04" y="111.50" width="15.92" height="345.50" fill="url(#b21)"/><rect x="838.46" y="111.50" width="15.92" height="345.50" fill="url(#b22)"/><rect x="853.87" y="111.50" width="15.92" height="345.50" fill="url(#b23)"/><rect x="869.29" y="111.50" width="13.71" height="345.50" fill="url(#b24)"/></g></g>
<rect x="99.0" y="117.5" width="368.0" height="333.5" fill="none" stroke="#2a0810" stroke-width="2"/>
<rect x="507.0" y="117.5" width="370.0" height="333.5" fill="none" stroke="#2a0810" stroke-width="2"/>
<rect x="185.5" y="26.8" width="610.5" height="19.5" fill="url(#cb)" stroke="#111" stroke-width="1.4"/>
<text x="188.5" y="90.5" font-size="30.5" text-anchor="middle" font-family="'Liberation Sans', Arial, sans-serif" fill="#000">0.01</text><text x="392.0" y="90.5" font-size="30.5" text-anchor="middle" font-family="'Liberation Sans', Arial, sans-serif" fill="#000">0.1</text><text x="595.5" y="90.5" font-size="30.5" text-anchor="middle" font-family="'Liberation Sans', Arial, sans-serif" fill="#000">1</text><text x="799.0" y="90.5" font-size="30.5" text-anchor="middle" font-family="'Liberation Sans', Arial, sans-serif" fill="#000">10</text><text x="81.0" y="128.5" font-size="30.5" text-anchor="end" font-family="'Liberation Sans', Arial, sans-serif" fill="#000">2</text><text x="81.0" y="211.9" font-size="30.5" text-anchor="end" font-family="'Liberation Sans', Arial, sans-serif" fill="#000">1</text><text x="81.0" y="295.2" font-size="30.5" text-anchor="end" font-family="'Liberation Sans', Arial, sans-serif" fill="#000">0</text><text x="81.0" y="378.6" font-size="30.5" text-anchor="end" font-family="'Liberation Sans', Arial, sans-serif" fill="#000">-1</text><text x="81.0" y="462.0" font-size="30.5" text-anchor="end" font-family="'Liberation Sans', Arial, sans-serif" fill="#000">-2</text><text x="101.0" y="486.0" font-size="30.5" text-anchor="middle" font-family="'Liberation Sans', Arial, sans-serif" fill="#000">0</text><text x="282.0" y="486.0" font-size="33" text-anchor="middle" font-family="'Liberation Serif', 'Times New Roman', serif" fill="#000">&#960;</text><text x="465.0" y="486.0" font-size="34" text-anchor="middle" font-family="'Liberation Serif', 'Times New Roman', serif" fill="#000">2&#960;</text><text x="284.0" y="527.0" font-size="37" text-anchor="middle" font-family="'Liberation Sans', Arial, sans-serif" fill="#000" font-style="italic">k</text><text x="506.5" y="486.0" font-size="30.5" text-anchor="middle" font-family="'Liberation Sans', Arial, sans-serif" fill="#000">0</text><text x="691.0" y="486.0" font-size="33" text-anchor="middle" font-family="'Liberation Serif', 'Times New Roman', serif" fill="#000">&#960;</text><text x="875.0" y="486.0" font-size="34" text-anchor="middle" font-family="'Liberation Serif', 'Times New Roman', serif" fill="#000">2&#960;</text><text x="693.0" y="527.0" font-size="37" text-anchor="middle" font-family="'Liberation Sans', Arial, sans-serif" fill="#000" font-style="italic">k</text><text transform="translate(40,306) rotate(-90)" font-size="35" text-anchor="middle" font-family="'Liberation Sans', Arial, sans-serif">&#969;</text><text transform="translate(40,274.5) rotate(-90)" font-size="38" text-anchor="middle" font-family="'Liberation Sans', Arial, sans-serif">/</text><text transform="translate(40,251.3) rotate(-90)" font-size="38" text-anchor="middle" font-family="'Liberation Sans', Arial, sans-serif" font-style="italic">t</text><path d="M185.50 26.80V31.80M185.50 46.30V41.30M246.76 26.80V29.80M246.76 46.30V43.30M282.59 26.80V29.80M282.59 46.30V43.30M308.02 26.80V29.80M308.02 46.30V43.30M327.74 26.80V29.80M327.74 46.30V43.30M343.85 26.80V29.80M343.85 46.30V43.30M357.48 26.80V29.80M357.48 46.30V43.30M369.28 26.80V29.80M369.28 46.30V43.30M379.69 26.80V29.80M379.69 46.30V43.30M389.00 26.80V31.80M389.00 46.30V41.30M450.26 26.80V29.80M450.26 46.30V43.30M486.09 26.80V29.80M486.09 46.30V43.30M511.52 26.80V29.80M511.52 46.30V43.30M531.24 26.80V29.80M531.24 46.30V43.30M547.35 26.80V29.80M547.35 46.30V43.30M560.98 26.80V29.80M560.98 46.30V43.30M572.78 26.80V29.80M572.78 46.30V43.30M583.19 26.80V29.80M583.19 46.30V43.30M592.50 26.80V31.80M592.50 46.30V41.30M653.76 26.80V29.80M653.76 46.30V43.30M689.59 26.80V29.80M689.59 46.30V43.30M715.02 26.80V29.80M715.02 46.30V43.30M734.74 26.80V29.80M734.74 46.30V43.30M750.85 26.80V29.80M750.85 46.30V43.30M764.48 26.80V29.80M764.48 46.30V43.30M776.28 26.80V29.80M776.28 46.30V43.30M786.69 26.80V29.80M786.69 46.30V43.30" stroke="#111" stroke-width="1.3" fill="none"/><path d="M99.00 367.62H111.00M467.00 367.62H455.00M99.00 284.25H111.00M467.00 284.25H455.00M99.00 200.88H111.00M467.00 200.88H455.00M283.00 451.00V439.00M283.00 117.50V129.50M507.00 367.62H519.00M877.00 367.62H865.00M507.00 284.25H519.00M877.00 284.25H865.00M507.00 200.88H519.00M877.00 200.88H865.00M692.00 451.00V439.00M692.00 117.50V129.50" stroke="#000" stroke-opacity="0.55" stroke-width="1.2" fill="none"/>
<text x="110.0" y="155.5" font-size="36" font-family="'Liberation Sans', Arial, sans-serif" fill="#fff">(</text><text x="121.0" y="155.5" font-size="36" font-family="'Liberation Sans', Arial, sans-serif" fill="#fff">a</text><text x="145.3" y="155.5" font-size="36" font-family="'Liberation Sans', Arial, sans-serif" fill="#fff">)</text><text x="160.2" y="155.5" font-size="36" font-family="'Liberation Sans', Arial, sans-serif" fill="#fff" font-style="italic">A</text><text x="193.0" y="155.5" font-size="36" font-family="'Liberation Sans', Arial, sans-serif" fill="#fff">(</text><text x="207.7" y="155.5" font-size="36" font-family="'Liberation Sans', Arial, sans-serif" fill="#fff" font-style="italic">k</text><text x="225.4" y="155.5" font-size="36" font-family="'Liberation Sans', Arial, sans-serif" fill="#fff">,</text><text x="235.8" y="155.5" font-size="36" font-family="'Liberation Sans', Arial, sans-serif" fill="#fff">&#969;</text><text x="264.5" y="155.5" font-size="36" font-family="'Liberation Sans', Arial, sans-serif" fill="#fff">)</text><text x="275.2" y="155.5" font-size="36" font-family="'Liberation Sans', Arial, sans-serif" fill="#fff">,</text><text transform="translate(300.1,155.5) scale(0.84,1)" font-size="36" font-family="'Liberation Sans', Arial, sans-serif" fill="#fff" font-style="italic">U</text><text x="323.4" y="155.5" font-size="36" font-family="'Liberation Sans', Arial, sans-serif" fill="#fff">/</text><text transform="translate(335.0,155.5) scale(1.2,1)" font-size="37" font-family="'Liberation Sans', Arial, sans-serif" fill="#fff" font-style="italic">&#955;</text><text x="357.3" y="155.5" font-size="36" font-family="'Liberation Sans', Arial, sans-serif" fill="#fff">=8</text><text transform="translate(187.8,163.5) scale(0.62,1)" text-anchor="middle" font-size="28" font-family="'Liberation Sans', Arial, sans-serif" fill="#fff" stroke="#fff" stroke-width="0.9">&#8593;</text>
<text x="514.7" y="155.5" font-size="36" font-family="'Liberation Sans', Arial, sans-serif" fill="#fff">(</text><text x="525.7" y="155.5" font-size="36" font-family="'Liberation Sans', Arial, sans-serif" fill="#fff">b</text><text x="550.0" y="155.5" font-size="36" font-family="'Liberation Sans', Arial, sans-serif" fill="#fff">)</text><text x="564.9" y="155.5" font-size="36" font-family="'Liberation Sans', Arial, sans-serif" fill="#fff" font-style="italic">A</text><text x="597.7" y="155.5" font-size="36" font-family="'Liberation Sans', Arial, sans-serif" fill="#fff">(</text><text x="612.4" y="155.5" font-size="36" font-family="'Liberation Sans', Arial, sans-serif" fill="#fff" font-style="italic">k</text><text x="630.1" y="155.5" font-size="36" font-family="'Liberation Sans', Arial, sans-serif" fill="#fff">,</text><text x="640.5" y="155.5" font-size="36" font-family="'Liberation Sans', Arial, sans-serif" fill="#fff">&#969;</text><text x="669.2" y="155.5" font-size="36" font-family="'Liberation Sans', Arial, sans-serif" fill="#fff">)</text><text x="679.9" y="155.5" font-size="36" font-family="'Liberation Sans', Arial, sans-serif" fill="#fff">,</text><text transform="translate(708.1,155.5) scale(0.84,1)" font-size="36" font-family="'Liberation Sans', Arial, sans-serif" fill="#fff" font-style="italic">U</text><text x="731.4" y="155.5" font-size="36" font-family="'Liberation Sans', Arial, sans-serif" fill="#fff">/</text><text transform="translate(743.0,155.5) scale(1.2,1)" font-size="37" font-family="'Liberation Sans', Arial, sans-serif" fill="#fff" font-style="italic">&#955;</text><text x="763.8" y="155.5" font-size="36" font-family="'Liberation Sans', Arial, sans-serif" fill="#fff">=40</text><text transform="translate(592.5,163.5) scale(0.62,1)" text-anchor="middle" font-size="28" font-family="'Liberation Sans', Arial, sans-serif" fill="#fff" stroke="#fff" stroke-width="0.9">&#8593;</text>
</svg>
</body></html>
